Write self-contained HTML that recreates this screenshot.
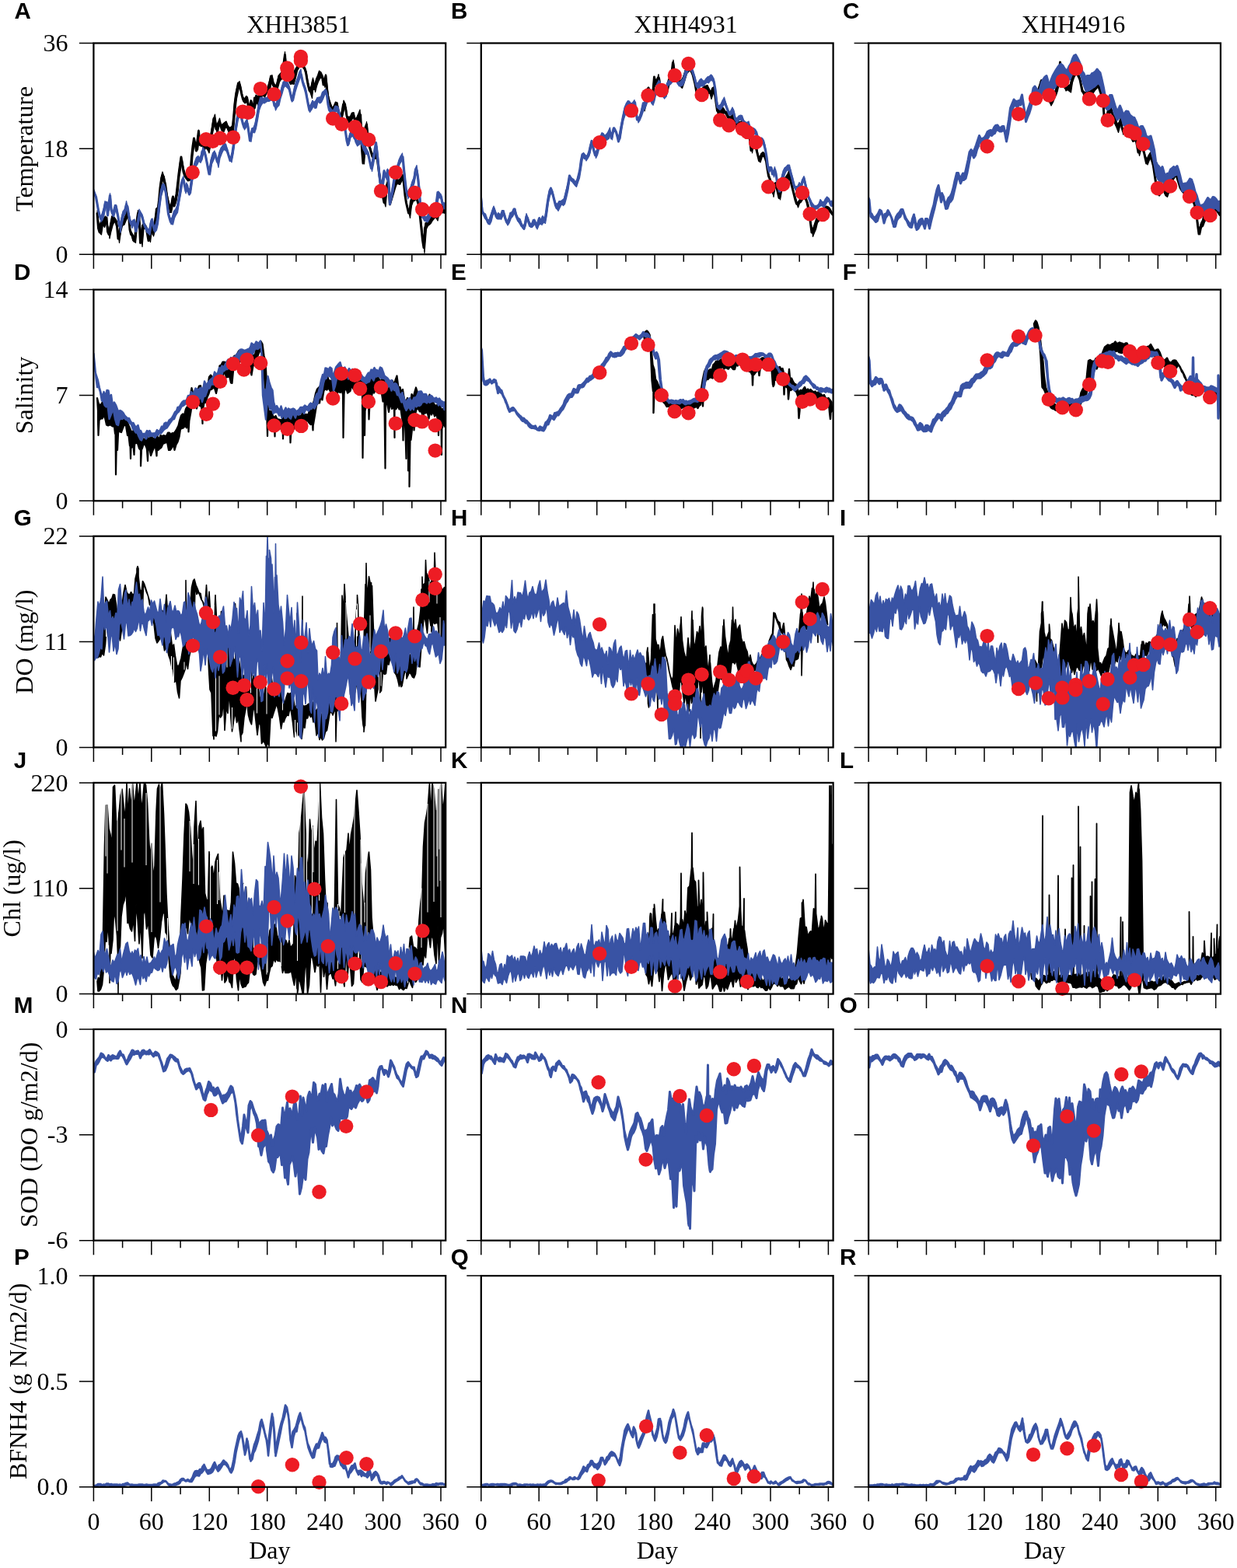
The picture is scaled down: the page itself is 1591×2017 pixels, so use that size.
<!DOCTYPE html>
<html lang="en"><head><meta charset="utf-8"><title>Figure</title>
<style>html,body{margin:0;padding:0;background:#fff}svg{display:block}</style>
</head><body>
<svg width="1591" height="2017" viewBox="0 0 1591 2017">
<rect width="1591" height="2017" fill="#fff"/>
<clipPath id="c00"><rect x="120.4" y="55.0" width="452.8" height="272.7"/></clipPath>
<g clip-path="url(#c00)"><g transform="scale(0.5)"><path d="M250 549l3 38 3 10 3-17 3-5 3-3 3-6 3-6 3 0 3 36 3 7 3-15 3-15 3-16 3 5 3 7 3 3 3 10 3 32 3-8 3-26 3-4 3-4 3-4 3-7 3-8 3-6 3 6 3 38 3 12 3 2 3 13 3 3 3-27 3-24 3-21 3 12 3 64 3-17 3-28 3 1 3 1 3 3 3 17 3 17 3-12 3-24 3 8 3 12 3-17 3-24 3-13 3-9 3-24 3-33 3-21 3-11 3 4 3 22 3 16 3 16 3 14 3 11 3 6 3-18 3-16 3 24 3-15 3-15 3-26 3-27 3-22 3-21 3 20 3 18 3 9 3 5 3 3 3 0 3-3 3-16 3-36 3-28 3-20 3 14 3 18 3-27 3-24 3 36 3-3 3-3 3 2 3 3 3 4 3 4 3 4 3-9 3-16 3-16 3-18 3-20 3 6 3 21 3-8 3-8 3-3 3 12 3 9 3-6 3-6 3-6 3 7 3 7 3 7 3-1 3-3 3-3 3-27 3-36 3-23 3-15 3-15 3 4 3 12 3 14 3 11 3 6 3 2 3-14 3 13 3 22 3-12 3-12 3 12 3 12 3-32 3 3 3 9 3-5 3-9 3-5 3-2 3-2 3-3 3-2 3-3 3-2 3-3 3-15 3-17 3 8 3 16 3 3 3 4 3-7 3-12 3-11 3-1 3-2 3-10 3-21 3-22 3 45 3 8 3 7 3 8 3 6 3-8 3-8 3-8 3-7 3-7 3-7 3-18 3-21 3 10 3 22 3 11 3 3 3 10 3 18 3 16 3 12 3 3 3-15 3-14 3 22 3-10 3-10 3-6 3-6 3-3 3-2 3 6 3 20 3-9 3-14 3 37 3 20 3 12 3 7 3 7 3 7 3-6 3-7 3-7 3 10 3 18 3 9 3 5 3-19 3-19 3 3 3 6 3 20 3 12 3-2 3-1 3-6 3-7 3 5 3 12 3 1 3-7 3-7 3-7 3 30 3 64 3 35 3-37 3-55 3-8 3 34 3 19 3 10 3 10 3 10 3 0 3-2 3-2 3 5 3 24 3 23 3 22 3 18 3 15 3 15 3-11 3-30 3-8 3 13 3 41 3-15 3-14 3-10 3-10 3-10 3 1 3 2 3-2 3-5 3-5 3-5 3 20 3 30 3 19 3 13 3 13 3-5 3-26 3-7 3-4 3-4 3-1 3 10 3 10 3 12 3 28 3 28 3 29 3 19 3-50 3-9 3-3 3-3 3-3 3-4 3-4 3-4 3-3 3-3 3-2 3-2 3-3 3-2 3 0 3-1 3-1 3 0 2-1" fill="none" stroke="#000" stroke-width="6" stroke-linejoin="round" stroke-linecap="round"/><path d="M250 542l4 43 5-15 4-4 4-5 4-5 4 12 5 31 4-23 4-19 4-1 4 5 5 8 4 37 4-26 4-13 4-2 5-7 4-16 4-4 4 49 4 9 5 10 4 3 4-39 4-29 4 36 5 30 4-32 4 0 4 6 4 20 5 8 4-34 4 14 4-14 4-38 5-4 4-32 4-44 4-15 4 13 5 19 4 29 4 19 4 14 4-29 5 13 4-13 4-29 4-36 4-34 5 4 4 23 4 13 4 4 4-7 5-1 4-56 4-27 4 5 4 3 5-35 4 30 4-4 4 3 4 3 5 4 4 6 4-16 4-25 4-27 5-14 4 29 4-8 4-11 4 18 5-4 4-3 4-3 4 10 4 6 5-2 4-4 4-55 4-32 4-16 5-10 4 15 4 23 4 7 4-4 5 0 4 27 4-20 4 10 4 1 5-24 4 3 4-2 4-3 4-9 5-1 4 0 4-5 4-12 4-15 5-7 4 19 4 7 4-2 4-22 5-6 4-4 4-20 4-32 4 52 5 7 4 11 4 0 4-12 4-11 5-8 4-11 4-32 4 3 4 33 5 7 4 12 4 25 4 16 4-1 5-24 4 21 4-18 4-9 4-12 5 4 4 9 4 11 4-15 4 43 5 21 4 12 4 11 4-7 4-9 5 2 4 22 4 14 4-17 4-25 5 10 4 30 4 3 4-2 4-9 5-1 4 17 4-5 4-9 4-10 5 84 4 40 4-61 4-32 4 40 5 24 4 14 4 5 4-2 4-5 5 26 4 32 4 30 4 22 4 22 5-46 4-15 4 45 4-3 4-14 5-14 4-15 4 3 4 0 4-6 5-8 4 21 4 42 4 20 4 14 5-29 4-10 4-7 4-5 4 15 5 16 4 34 4 42 4 28 4-56 5-1 4-20 4 10 4-8 4-6 5-2 4-8 4-1 4-2 4-9 5 8 4-1 2 20-4-5-4 0-5-2-4 4-4 18-4-7-4 0-5 6-4 7-4 4-4 3-4 8-5 62-4-41-4-39-4-33-4-15-5-13-4 7-4 1-4 11-4 32-5-21-4-14-4-31-4-34-4 4-5 10-4-1-4-1-4 11-4 14-5 17-4 10-4-34-4-5-4 46-5-17-4-20-4-32-4-32-4-25-5 3-4 0-4-6-4-18-4-19-5-38-4 43-4 51-4-45-4-83-5 13-4 9-4 7-4-20-4 1-5 7-4 9-4-14-4-10-4-23-5 24-4 19-4-17-4-23-4 1-5 10-4-1-4-4-4-12-4-24-5-42-4 21-4-16-4-9-4 1-5 9-4 11-4 16-4-24-4 40-5-15-4-16-4-25-4-12-4-8-5-33-4 12-4 19-4 7-4 17-5 18-4-1-4 0-4-8-4-5-5-53-4 31-4 21-4 3-4 6-5 18-4 2-4-6-4-8-4-2-5 23-4-1-4 5-4 9-4-5-5 4-4 8-4 13-4-9-4 17-5 1-4-7-4 13-4-24-4 0-5 4-4-5-4-18-4-22-4 9-5 23-4 36-4 46-4 19-4-10-5-5-4-11-4 1-4 10-4-1-5-21-4 11-4 23-4-31-4 4-5 24-4 25-4 21-4-9-4-7-5 13-4-16-4 2-4-23-4 32-5-9-4-4-4 27-4 56-4 9-5 1-4-5-4-8-4-29-4-1-5 30-4 41-4 23-4 12-4-7-5 25-4 0-4-27-4-23-4-26-5-11-4 15-4 43-4 38-4 7-5 27-4 18-4-19-4 34-4-9-5-24-4-2-4 1-4 46-4-44-5-36-4 28-4 42-4-6-4-5-5-13-4-52-4 11-4 8-4 10-5 3-4 16-4 28-4-30-4-22-5-2-4 9-4 15-4 19-4-31-5-9-4 11-4-7-4 26-4-4-5-44z" fill="#000" stroke="#000" stroke-width="2.4" stroke-linejoin="round"/>
<path d="M241 492l3 8 3 7 3 17 3 17 3 13 3 9 3-6 3-7 3-9 3-18 3-2 3 33 3-30 3-21 3 36 3 10 3 0 3-12 3-8 3 15 3 15 3 22 3 3 3-18 3-13 3-6 3-8 3-12 3 5 3 21 3 14 3 9 3 0 3-8 3 3 3 24 3-12 3-14 3-18 3-2 3 4 3 10 3 12 3 8 3 6 3 4 3 4 3-4 3-18 3-10 3 15 3 12 3-7 3-8 3-18 3-28 3-22 3-18 3-10 3-5 3 9 3 13 3 27 3 25 3 11 3 10 3 0 3-12 3-8 3-4 3-4 3-13 3-17 3-18 3-20 3-10 3-3 3 16 3 14 3-16 3 15 3 9 3-16 3-22 3-22 3-10 3-10 3-5 3-5 3-1 3 5 3-4 3-20 3-2 3 3 3 11 3 15 3 16 3 15 3-18 3-18 3-8 3-7 3-2 3 11 3 10 3-5 3-14 3-9 3-6 3-6 3 1 3 1 3 5 3 10 3 10 3 10 3-6 3-15 3-20 3-24 3-22 3-20 3-12 3-2 3 3 3 12 3 12 3 9 3-7 3-8 3 8 3 20 3 21 3-14 3-16 3 2 3 0 3-17 3-16 3-17 3-17 3-8 3 0 3-1 3-1 3-1 3 0 3-1 3-1 3 0 3-3 3-3 3 9 3 15 3 2 3-7 3-7 3-8 3-9 3-9 3-12 3-4 3-1 3-1 3 4 3 3 3 9 3 13 3 13 3-11 3-13 3-10 3-10 3-9 3-9 3-8 3 5 3 15 3 11 3 8 3 11 3 16 3 16 3 14 3-4 3-10 3-3 3 3 3 2 3-9 3-9 3 2 3 3 3-5 3-7 3-7 3-3 3-4 3 12 3 24 3 14 3 3 3 3 3 1 3-4 3-4 3-3 3 3 3 4 3 12 3 12 3 4 3 4 3 4 3 18 3 21 3 12 3-13 3-14 3-3 3 2 3 2 3 6 3 12 3 6 3-4 3-4 3-1 3 8 3 8 3 8 3 2 3 2 3 2 3 13 3 14 3 14 3-11 3-17 3-19 3-19 3 26 3 29 3 30 3 25 3 20 3-35 3-22 3 12 3 4 3-18 3 35 3 52 3-16 3-17 3-19 3-20 3-10 3-9 3-9 3-6 3-6 3-6 3-3 3 32 3 29 3 25 3 12 3-6 3-6 3-6 3-8 3-8 3-10 3-22 3 2 3 19 3 29 3 40 3 18 3 15 3 2 3 0 3 0 3 0 3-2 3-4 3-4 3-4 3-5 3-4 3-5 3-14 3-24 3 10 3-5 3 7 3 17 3 2 3 3 2 1" fill="none" stroke="#3953A4" stroke-width="6.4" stroke-linejoin="round" stroke-linecap="round"/><path d="M241 486l4 13 4 14 4 26 5 19 4-7 4-14 4-20 4 5 5 11 4-36 4 46 4 1 4-17 5 4 4 22 4 31 4-23 4-17 5-6 4-21 4 18 4 22 4 13 5-2 4-4 4 18 4-14 4-30 5 9 4 8 4 19 4 7 4 6 5 5 4-24 4-6 4 22 4-7 5-14 4-38 4-33 4-17 4-3 5 14 4 29 4 34 4 13 4-1 5-18 4-4 4-9 4-21 4-24 5-24 4-8 4 30 4-13 4 17 5-3 4-27 4-25 4-16 4-11 5-4 4 5 4-10 4-17 4 5 5 21 4 21 4 8 4-26 4-14 5-6 4 13 4 9 4-19 4-10 5-6 4-6 4 1 4 14 4 15 5 7 4-20 4-28 4-34 4-29 5-10 4 0 4 22 4 15 4-9 5-8 4 31 4 17 4-23 4-2 5-13 4-23 4-23 4-18 4-1 5 3 4-2 4 0 4-5 4-2 5-4 4 12 4 18 4-6 4-14 5-9 4-14 4-16 4-3 4 1 5 4 4 11 4 21 4 1 4-22 5-16 4-9 4-15 4-6 4 29 5 10 4 12 4 23 4 21 4-4 5-11 4 5 4-4 4-8 4-1 5-1 4-12 4-3 4-5 4 15 5 31 4 2 4 6 4-1 4-10 5 1 4 4 4 20 4 11 4 1 5 19 4 26 4 4 4-15 4-9 5 6 4 4 4 17 4-1 4-6 5 4 4 15 4 3 4 4 4 8 5 21 4 16 4-23 4-16 4-18 5 32 4 46 4 33 4-17 4-25 5 14 4-17 4 59 4 12 4-23 5-25 4-22 4-9 4-15 4-9 5-8 4 34 4 40 4 30 4-10 5-6 4-15 4-9 4-24 4-9 5 36 4 58 4 17 4 16 4 4 5 1 4-7 4-6 4-2 4-6 5-8 4-16 4-20 4 4 4 10 5 15 4 1 2 14-4 2-4-23-5-4-4-4-4 20-4 16-4 7-5 5-4 3-4 7-4 7-4-2-5-2-4-10-4-25-4-54-4-28-5-2-4 22-4 11-4 12-4 9-5 9-4-29-4-39-4-34-4 5-5 8-4 14-4 15-4 13-4 28-5 23-4-15-4-58-4 21-4-18-5 34-4 9-4-32-4-44-4-37-5 21-4 26-4 18-4-18-4-21-5-5-4 0-4-11-4-10-4-7-5 4-4 3-4-18-4 0-4-8-5 4-4 17-4-2-4-28-4-13-5-11-4-7-4-17-4-4-4-3-5 6-4 3-4-1-4-6-4-28-5-20-4 5-4 10-4 8-4 3-5-5-4 17-4 1-4-5-4 8-5 7-4-24-4-22-4-12-4-13-5-23-4 6-4 11-4 11-4 13-5 22-4 4-4-21-4-11-4-4-5-5-4 5-4 15-4 12-4 18-5 5-4 8-4-18-4-7-4-1-5 3-4 0-4 2-4 3-4-1-5 8-4 11-4 25-4 21-4 12-5-2-4 25-4-15-4-33-4 10-5 7-4-16-4-18-4-1-4 8-5 29-4 33-4 28-4 21-4-7-5-12-4-9-4-4-4 0-4 8-5 13-4 24-4-17-4-14-4 11-5 11-4 28-4-9-4-22-4-19-5-6-4 17-4 8-4-6-4 10-5 7-4 15-4 23-4 29-4 3-5-14-4 12-4-28-4 0-4 25-5 27-4 25-4 6-4 8-4 17-5-1-4-16-4-27-4-36-4-17-5 10-4 14-4 32-4 38-4 17-5 6-4-18-4-1-4 26-4-4-5-4-4-11-4-19-4-10-4-3-5 24-4 17-4-18-4 0-4 10-5-14-4-21-4-21-4 19-4 5-5 23-4 21-4-33-4-12-4-15-5 19-4-3-4-44-4 31-4-7-5-4-4 23-4 12-4 5-4-21-5-22-4-19-4-9z" fill="#3953A4" stroke="#3953A4" stroke-width="2.4" stroke-linejoin="round"/></g></g>
<g fill="#ED1C24"><circle cx="247.7" cy="221.8" r="9.2"/><circle cx="265.0" cy="179.3" r="9.2"/><circle cx="273.6" cy="181.7" r="9.2"/><circle cx="283.1" cy="177.8" r="9.2"/><circle cx="299.9" cy="176.7" r="9.2"/><circle cx="312.1" cy="143.7" r="9.2"/><circle cx="319.2" cy="144.8" r="9.2"/><circle cx="335.0" cy="114.1" r="9.2"/><circle cx="352.5" cy="121.1" r="9.2"/><circle cx="369.3" cy="87.4" r="9.2"/><circle cx="369.8" cy="96.1" r="9.2"/><circle cx="386.9" cy="73.0" r="9.2"/><circle cx="386.9" cy="78.0" r="9.2"/><circle cx="428.2" cy="152.6" r="9.2"/><circle cx="439.5" cy="159.7" r="9.2"/><circle cx="456.5" cy="163.2" r="9.2"/><circle cx="463.6" cy="171.6" r="9.2"/><circle cx="474.2" cy="179.8" r="9.2"/><circle cx="490.0" cy="245.7" r="9.2"/><circle cx="508.8" cy="221.8" r="9.2"/><circle cx="533.5" cy="248.0" r="9.2"/><circle cx="543.2" cy="269.2" r="9.2"/><circle cx="559.7" cy="271.3" r="9.2"/><circle cx="561.0" cy="268.9" r="9.2"/></g>
<clipPath id="c01"><rect x="618.8" y="55.0" width="452.8" height="272.7"/></clipPath>
<g clip-path="url(#c01)"><g transform="scale(0.5)"><path d="M1656 279l3-12 3-12 3-20 3-9 3 12 3 10 3 9 3-24 3-35 3 16 3 1 3-14 3 0 3 18 3 9 3 7 3 7 3 3 3-11 3-11 3-11 3-6 3-6 3-14 3-25 3 24 3 10 3 6 3 6 3 6 3 1 3-3 3-3 3-6 3-10 3-10 3-4 3-4 3-1 3 6 3 6 3 7 3 12 3 12 3 17 3 16 3 7 3-8 3-8 3-5 3-4 3-4 3-1 3 1 3 1 3 4 3 7 3 1 3-11 3-2 3 16 3 21 3 21 3 3 3 2 3 0 3-2 3-2 3 0 3 4 3 3 3 6 3 6 3 0 3-3 3-3 3 4 3 10 3 6 3 0 3-1 3-1 3 0 3 0 3 6 3 6 3 6 3 0 3 0 3 0 3 25 3 27 3-9 3-16 3 4 3 12 3 12 3 12 3 12 3-9 3-8 3-3 3 6 3 6 3 9 3 20 3 18 3 7 3 8 3 24 3 4 3-18 3-6 3 12 3 12 3 13 3-13 3-14 3-6 3-6 3-6 3-5 3-3 3-3 3 2 3 12 3 12 3 12 3 12 3 12 3 9 3 2 3-6 3-5 3-5 3-5 3-5 3 5 3 8 3 8 3 14 3 18 3 21 3 24 3 0 3-13 3-8 3-7 3-6 3-4 3-4 3-4 3-5 3-4 3-5 3-4 3 2 3 3 3 3 3 2 3 3 3 2" fill="none" stroke="#000" stroke-width="6" stroke-linejoin="round" stroke-linecap="round"/><path d="M1656 274l4-17 4-29 5-3 4 16 4 9 4-37 4-10 5 3 4-15 4 24 4 8 4 11 5 1 4-13 4-17 4-8 4-12 5-31 4 25 4 17 4 5 4 7 5-3 4-7 4-11 4-15 4-2 5 1 4 4 4 9 4 17 4 25 5 20 4-3 4-6 4-11 4-5 5-1 4-1 4 9 4 10 4-12 5-3 4 25 4 30 4 2 4-2 5-4 4 5 4 7 4 1 4 11 5 3 4-9 4 4 4 17 4-2 5 2 4 0 4-2 4 10 4 8 5-2 4 1 4 26 4 30 4-28 5 5 4 10 4 26 4 9 4-11 5-4 4 4 4 12 4 32 4 13 5 16 4 32 4-29 4-2 4 16 5 6 4-8 4-11 4-13 4-4 5-8 4-9 4 23 4 15 4 16 5 17 4 14 4-7 4-6 4-13 5-2 4 7 4 13 4 12 4 35 5 28 4-6 4-14 4-11 4-6 5-6 4-6 4-7 4-2 4-2 5 2 4 4 4 7 2 11-4-5-4-5-4-4-5 4-4 2-4 11-4 3-4 7-5 6-4 17-4 9-4 10-4-32-5-29-4-22-4-9-4-14-4 9-5 8-4 3-4 11-4-12-4-14-5-17-4-16-4-16-4 5-4 4-5 7-4 8-4 9-4 22-4-14-5-16-4-1-4 24-4-29-4-12-5-15-4-28-4-16-4-4-4 0-5 15-4-10-4-18-4-12-4-10-5 26-4-28-4-26-4-1-4 4-5-12-4-10-4 1-4 1-4 9-5-6-4-15-4-3-4 2-4 0-5-7-4-7-4-6-4 5-4-1-5 0-4 6-4-38-4-24-4 2-5 15-4-15-4 1-4 0-4-9-5 5-4 9-4 9-4 3-4-22-5-25-4-14-4-7-4-11-4 5-5 5-4 14-4 13-4 11-4-4-5-7-4-7-4-12-4-29-4 30-5 13-4 10-4 18-4 10-4-1-5-11-4-9-4-26-4 16-4-3-5 11-4 34-4-7-4-17-5 8-4 26-4 16z" fill="#000" stroke="#000" stroke-width="2.4" stroke-linejoin="round"/>
<path d="M1237 508l3 35 3 6 3 5 3 4 3 6 3 8 3-2 3-6 3-9 3-9 3-10 3 10 3 10 3 5 3-11 3 12 3-5 3-9 3-2 3 6 3 11 3 8 3 4 3-10 3-8 3-3 3-4 3-8 3-3 3 14 3 8 3 5 3 5 3 4 3 5 3 5 3 3 3-14 3-17 3 4 3 11 3 9 3 1 3-5 3-5 3-4 3 8 3 9 3-12 3-11 3 13 3-4 3-12 3 7 3-1 3-18 3-22 3-19 3-14 3-7 3 8 3 11 3 12 3 12 3 7 3-5 3-5 3-3 3-1 3 2 3-2 3-11 3-11 3-13 3-15 3-19 3 8 3 5 3 1 3 2 3 3 3 0 3-10 3-12 3-14 3-23 3-14 3-1 3 10 3-1 3-2 3-5 3-6 3-17 3-13 3 14 3 12 3 10 3-4 3-9 3-12 3-11 3-10 3-9 3 5 3 8 3-3 3-2 3-5 3-8 3 3 3 14 3-15 3-11 3 5 3 5 3 11 3 13 3-14 3-18 3-16 3-16 3-13 3-9 3-7 3-4 3-2 3 5 3 4 3-2 3-4 3-5 3 23 3 22 3-1 3-4 3-6 3-12 3-11 3-5 3-5 3-5 3-5 3-5 3 2 3 7 3 8 3-10 3-11 3-10 3-9 3-9 3-6 3 11 3 11 3 9 3 7 3-4 3-18 3-12 3-3 3-2 3-3 3-4 3-3 3 3 3 2 3 4 3 5 3 4 3-2 3-3 3-3 3-9 3-11 3-9 3-4 3-4 3 1 3 3 3 4 3 8 3 9 3 12 3 12 3 1 3-4 3-3 3-1 3-1 3-1 3-2 3-2 3-2 3-4 3-3 3-3 3 3 3 2 3 11 3 18 3 28 3 17 3 1 3 1 3-5 3-7 3-7 3 3 3 9 3 8 3 7 3 8 3-4 3-4 3-4 3 11 3 13 3 3 3-2 3-2 3-2 3-2 3 4 3 8 3 8 3 0 3-2 3-2 3 6 3 10 3 8 3-2 3-2 3-2 3 9 3 9 3 9 3 1 3-1 3-1 3 1 3 12 3 12 3 18 3 24 3 11 3-8 3 1 3 16 3-3 3-9 3 11 3 21 3 12 3 12 3-15 3-16 3-12 3-6 3-6 3-3 3-2 3-2 3 7 3 12 3 11 3 11 3 11 3 2 3 1 3 0 3-3 3-3 3-4 3-12 3-5 3 14 3 13 3 11 3 11 3 8 3 9 3 7 3 2 3 2 3 0 3-2 3-2 3-4 3-6 3 2 3 2 3 1 3-5 3-4 3-3 3-2 3 7 3 8 3-4 2-2" fill="none" stroke="#3953A4" stroke-width="6.4" stroke-linejoin="round" stroke-linecap="round"/><path d="M1237 493l4 48 4 7 4 2 5 15 4 0 4-12 4-12 4-11 5 14 4 10 4-6 4 6 4-13 5 0 4 16 4 11 4-6 4-15 5-2 4-9 4 0 4 15 4 9 5 3 4 11 4 8 4-9 4-24 5 14 4 10 4 3 4-11 4-1 5 13 4-10 4-8 4 6 4-10 5 8 4-23 4-29 4-22 4-7 5 11 4 19 4 11 4 1 4-7 5 0 4-3 4-3 4-18 4-15 5-25 4 1 4 5 4 2 4 7 5-8 4-14 4-27 4-23 4-3 5 6 4 2 4-12 4-16 4-12 5 18 4 14 4-7 4-16 4-14 5-14 4 1 4 6 4-4 4-6 5-11 4 23 4-22 4-1 4 8 5 19 4-14 4-23 4-18 4-23 5-12 4-6 4 1 4 6 4-2 5-7 4 23 4 24 4-4 4-11 5-25 4-1 4-7 4-7 4-7 5 5 4 13 4-13 4-16 4-16 5-9 4 13 4 8 4 13 4-3 5-24 4-6 4-2 4-11 4 1 5 5 4 3 4 7 4 1 4-4 5-5 4-18 4-11 4-5 4 0 5 6 4 7 4 15 4 17 4 0 5-8 4-3 4 5 4 1 4-6 5-5 4-1 4-4 4 4 4 12 5 34 4 29 4 0 4-3 4-9 5-9 4 14 4 12 4 12 4-2 5-10 4 11 4 17 4-1 4-5 5-2 4 1 4 12 4 4 4 2 5-3 4 16 4 6 4-5 4 3 5 7 4 15 4 3 4-3 4 4 5 15 4 28 4 31 4-3 4 0 5 13 4-13 4 20 4 20 4 14 5-24 4-19 4-8 4-3 4-5 5 0 4 20 4 12 4 20 4 4 5-2 4-9 4 5 4-12 4-9 5 20 4 17 4 16 4 7 4 9 5 6 4 1 4-1 4-3 4-12 5 6 4 0 4-8 4-5 4 3 5 9 4-2 2 15-4 0-4-14-5 2-4 6-4 8-4-1-4-3-5 3-4 5-4 1-4 1-4-2-5-7-4-16-4-13-4-16-4-18-5 2-4 13-4 7-4 6-4-2-5-6-4-19-4-16-4-16-4 2-5 1-4 7-4 11-4 17-4 20-5-7-4-24-4-20-4 13-4-14-5-4-4 7-4-33-4-24-4-18-5-1-4-1-4-2-4-9-4-13-5 2-4 2-4-9-4-14-4 2-5 3-4-6-4-11-4-4-4-1-5 7-4 2-4-15-4-14-4 8-5 0-4-7-4-11-4-12-4 6-5 7-4 4-4-3-4-24-4-31-5-15-4-3-4 1-4 6-4-2-5 4-4 6-4 0-4 0-4 7-5-4-4-14-4-14-4-11-4-5-5-3-4 10-4 10-4 15-4 7-5 2-4 0-4-8-4-6-4-3-5 6-4 5-4 3-4 1-4 28-5 6-4-9-4-16-4-9-4 9-5 11-4 19-4 12-4-9-4-9-5 6-4 11-4 10-4 6-4 12-5 12-4 6-4-23-4-20-4 2-5 6-4-6-4-2-4 6-4 15-5 15-4 22-4 26-4 6-4-17-5-6-4-3-4 23-4-19-4 15-5 4-4 1-4-8-4 3-4 12-5 16-4 15-4 8-4-17-4-19-5 13-4 17-4 7-4 6-4-8-5 1-4 27-4 24-4 11-4 12-5-5-4-5-4-6-4-3-4 26-5 22-4 15-4 4-4-4-4 8-5 10-4-6-4-15-4-16-4-13-5 10-4 18-4 31-4 23-4-3-5 7-4-5-4 6-4 10-4-16-5 6-4 5-4 0-4-12-4-14-5 23-4 9-4-7-4-2-4-9-5-5-4-17-4-1-4 7-4 4-5 13-4 6-4-11-4-17-4 3-5 10-4-5-4 4-4-4-4-13-5 6-4 17-4 8-4-1-4-10-5-5-4-9-4-41z" fill="#3953A4" stroke="#3953A4" stroke-width="2.4" stroke-linejoin="round"/></g></g>
<g fill="#ED1C24"><circle cx="771.2" cy="183.3" r="9.2"/><circle cx="812.0" cy="142.4" r="9.2"/><circle cx="833.5" cy="122.8" r="9.2"/><circle cx="850.8" cy="116.0" r="9.2"/><circle cx="867.8" cy="96.9" r="9.2"/><circle cx="885.4" cy="81.9" r="9.2"/><circle cx="902.6" cy="122.0" r="9.2"/><circle cx="926.2" cy="154.5" r="9.2"/><circle cx="937.5" cy="161.3" r="9.2"/><circle cx="955.0" cy="165.7" r="9.2"/><circle cx="961.6" cy="169.9" r="9.2"/><circle cx="972.1" cy="183.0" r="9.2"/><circle cx="988.3" cy="240.3" r="9.2"/><circle cx="1007.1" cy="237.0" r="9.2"/><circle cx="1032.0" cy="248.0" r="9.2"/><circle cx="1041.7" cy="275.2" r="9.2"/><circle cx="1058.2" cy="276.0" r="9.2"/></g>
<clipPath id="c02"><rect x="1117.1" y="55.0" width="452.8" height="272.7"/></clipPath>
<g clip-path="url(#c02)"><g transform="scale(0.5)"><path d="M2652 260l3-2 3-1 3-2 3-1 3-8 3-10 3-10 3-9 3-10 3 18 3 14 3 3 3 3 3 4 3 5 3 5 3 6 3-5 3-7 3-8 3-8 3-8 3-9 3-23 3-37 3 34 3 13 3 9 3 9 3 3 3-1 3-1 3 0 3-7 3-12 3-12 3-4 3-4 3-1 3 6 3 6 3 7 3 15 3 15 3 3 3 4 3 2 3-1 3-1 3-1 3-2 3-3 3-3 3-3 3-4 3-5 3-5 3 7 3 9 3 9 3 12 3 18 3 40 3 4 3-16 3-10 3-4 3-4 3 2 3 12 3 12 3 7 3 6 3 5 3-2 3-6 3-7 3 18 3 10 3-1 3-1 3 0 3 0 3 6 3 5 3 5 3 5 3 1 3 1 3 1 3 15 3 17 3-6 3-10 3 2 3 7 3 8 3 14 3 13 3-7 3-7 3-7 3 7 3 10 3 12 3 21 3 20 3 13 3 13 3 7 3-14 3-13 3 6 3 8 3 8 3 5 3-3 3-12 3-9 3-8 3-8 3-7 3-4 3-5 3 8 3 10 3 9 3 10 3 5 3 4 3 3 3 4 3 0 3 0 3 0 3 0 3 5 3 7 3 7 3 6 3 13 3 17 3 26 3 22 3-14 3-10 3-5 3-5 3-4 3-3 3-3 3-3 3-3 3-4 3-4 3-3 3-4 3 1 3 2 3 2 3 3 3 3 0 1" fill="none" stroke="#000" stroke-width="6" stroke-linejoin="round" stroke-linecap="round"/><path d="M2652 257l4-3 4-3 5-4 4-11 4-14 4-14 4 3 5 13 4 13 4 8 4 6 4 4 5-1 4-13 4-10 4-14 4-17 5-40 4 40 4 8 4 15 4 1 5-5 4-2 4-18 4-10 4-9 5 0 4 9 4 10 4 19 4 15 5 5 4-2 4-9 4 9 4-5 5-3 4-8 4-5 4-1 4 5 5 19 4 15 4 51 4 0 4-21 5-4 4-6 4 19 4 6 4 7 5 15 4-7 4-11 4 29 4-2 5-1 4 1 4 4 4 9 4 8 5 3 4 1 4 14 4 20 4-14 5 0 4 9 4 17 4 9 4-9 5-8 4 14 4 14 4 34 4 17 5 22 4-5 4-19 4 11 4 8 5 8 4-9 4-17 4-8 4-9 5-7 4-4 4 17 4 13 4 5 5 9 4 7 4 0 4 1 4-4 5 10 4 10 4 11 4 15 4 34 5 21 4-17 4-8 4-16 4 4 5-3 4-4 4-3 4-7 4-3 5-2 4-3 4 12 2 14-4-6-4-6-5 2-4 6-4 2-4 7-4 4-5 1-4 6-4 11-4 3-4 19-5-26-4-28-4-19-4-8-4-5-5-13-4 1-4-3-4 3-4-9-5-5-4-9-4-11-4-15-4-4-5 9-4 8-4 19-4 7-4 11-5-4-4-10-4-12-4 18-4 4-5-16-4-21-4-22-4-24-4-15-5 9-4 10-4-14-4-14-4-13-5 3-4 15-4-20-4-16-4-2-5 2-4-8-4-8-4-8-4 11-5-9-4 3-4-28-4 7-4 16-5-13-4-9-4-15-4-17-4 4-5 5-4 18-4 2-4-51-4-13-5-19-4-12-4 6-4 4-4 6-5 7-4 1-4 5-4 0-4-2-5-2-4-12-4-25-4-6-4-10-5 0-4 7-4 12-4 26-4-3-5-4-4 3-4-12-4-14-4-37-5 43-4 19-4 12-4 7-4 11-5 9-4-10-4-1-4-12-4 0-5-21-4-11-4 14-4 12-4 16-5 4-4-2-4 3z" fill="#000" stroke="#000" stroke-width="2.4" stroke-linejoin="round"/>
<path d="M2234 509l4 38 4 3 4 8 5 2 4-5 4-6 4-9 4 3 5 19 4-11 4-1 4-9 4 7 5 11 4 17 4-3 4-15 4-7 5-5 4-7 4 0 4 12 4 10 5 8 4 5 4 7 4-18 4-11 5 34 4-7 4-11 4-4 4-1 5 16 4-16 4 0 4 15 4-19 5-19 4-13 4-22 4-17 4-11 5 26 4-6 4 9 4 22 4-8 5-11 4-3 4-8 4-14 4-19 5-20 4 0 4 14 4-5 4-8 5 2 4-18 4-18 4-21 4-6 5 7 4-8 4-11 4-12 4-12 5 10 4-3 4-2 4-6 4-9 5-3 4-1 4 2 4-9 4-5 5-1 4 6 4 1 4-4 4 0 5 25 4-18 4-24 4-30 4-10 5-12 4 4 4 1 4-2 4 1 5-16 4 27 4 28 4-8 4-12 5-14 4-18 4-20 4-5 4 6 5 8 4-7 4-16 4-8 4-6 5-4 4 14 4 11 4-15 4-10 5-9 4-7 4-6 4-5 4-3 5 4 4 7 4 5 4-1 4-9 5-8 4-12 4-8 4-2 4 7 5 10 4 9 4 17 4 5 4 10 5-4 4 0 4 0 4-6 4-1 5-4 4-6 4 5 4 4 4 16 5 23 4 23 4 4 4 1 4-9 5 0 4 13 4 13 4 12 4 0 5-11 4 10 4 14 4-5 4-5 5 1 4 8 4 4 4 3 4 1 5 11 4 12 4 4 4-5 4 0 5 10 4 14 4 4 4-1 4-2 5 18 4 17 4 30 4 9 4 4 5 9 4-8 4 14 4 11 4-7 5-1 4-10 4-3 4-4 4 3 5-5 4 12 4 15 4 17 4 3 5-2 4 0 4-5 4-7 4 2 5 15 4 16 4 9 4 14 4 13 5-1 4-1 4-4 4-7 4-7 5 5 4 0 4-7 4 1 4 4 5 8 4-2 2 24-4 0-5-5-4-5-4 6-4 2-4-2-5 3-4 1-4 1-4 5-4 0-5 0-4-5-4-11-4-14-4-14-5-16-4-5-4 5-4 3-4 1-5-1-4 1-4-13-4-14-4-18-5 3-4 1-4 4-4 1-4 12-5 6-4 11-4-8-4-12-4 0-5 0-4-5-4-9-4-22-4-21-5-19-4-6-4-1-4-3-4-10-5-15-4 2-4-1-4-4-4-10-5-8-4 0-4-4-4-5-4-2-5-7-4 8-4-1-4-14-4-9-5 4-4 5-4-9-4-10-4-16-5 2-4 5-4 2-4-4-4-20-5-22-4-14-4-6-4-2-4 4-5 5-4 2-4 3-4 1-4 3-5 2-4-11-4-10-4-16-4-10-5-6-4-9-4 3-4 9-4 8-5 12-4 1-4 4-4-2-4-8-5-2-4 6-4 6-4 4-4 10-5 5-4 4-4 8-4-6-4-9-5 7-4 3-4 6-4 8-4 9-5-1-4-2-4-9-4 10-4 21-5 16-4 9-4 11-4-30-4-26-5 13-4-1-4 5-4-1-4-4-5 10-4 12-4 28-4 26-4 19-5-26-4-3-4 3-4 0-4-3-5-1-4 9-4 2-4 4-4-4-5 9-4 5-4 8-4 2-4 3-5-13-4 17-4 9-4 15-4 6-5-13-4 9-4 21-4 21-4 15-5 4-4 0-4 9-4-13-4-3-5 22-4 17-4 17-4 6-4 3-5 15-4 1-4-21-4-9-4 13-5-30-4 13-4 14-4 18-4 15-5 20-4 18-4-16-4-2-4 18-5-14-4 1-4 5-4 8-4 3-5-31-4 10-4 15-4-1-4-5-5-12-4-5-4-16-4 1-4 10-5 4-4 6-4 16-4 0-4-19-5-11-4-3-4 5-4 6-4 13-5-24-4-2-4 7-4 13-4 3-5-6-4-4-4-4-4-43z" fill="#3953A4" stroke="#3953A4" stroke-width="6" stroke-linejoin="round"/></g></g>
<g fill="#ED1C24"><circle cx="1269.6" cy="188.3" r="9.2"/><circle cx="1310.0" cy="146.8" r="9.2"/><circle cx="1332.0" cy="126.7" r="9.2"/><circle cx="1349.3" cy="122.5" r="9.2"/><circle cx="1366.5" cy="103.9" r="9.2"/><circle cx="1383.7" cy="88.2" r="9.2"/><circle cx="1401.0" cy="127.3" r="9.2"/><circle cx="1418.7" cy="129.5" r="9.2"/><circle cx="1424.7" cy="154.7" r="9.2"/><circle cx="1453.0" cy="168.8" r="9.2"/><circle cx="1459.6" cy="171.5" r="9.2"/><circle cx="1470.2" cy="185.3" r="9.2"/><circle cx="1489.1" cy="242.2" r="9.2"/><circle cx="1505.1" cy="239.5" r="9.2"/><circle cx="1530.0" cy="252.7" r="9.2"/><circle cx="1539.7" cy="273.6" r="9.2"/><circle cx="1556.5" cy="277.1" r="9.2"/></g>
<clipPath id="c10"><rect x="120.4" y="372.1" width="452.8" height="272.7"/></clipPath>
<g clip-path="url(#c10)"><g transform="scale(0.5)"><path d="M250 1024l3 12 4 8 4-5 4-7 4 15 3-7 4 15 4 0 4 3 4-20 3 19 4-4 4 0 4 6 4 6 3 3 4-3 4 6 4 12 4-4 3 11 4 9 4 10 4 3 4-8 3 0 4 12 4 10 4-4 4 12 3-6 4 1 4 4 4-9 4 6 3-5 4-1 4 5 4-2 4 3 3-7 4 8 4-11 4 3 4-3 3 1 4 1 4-9 4 0 4 6 3-5 4 1 4-5 4-7 4-8 3-13 4-13 4-4 4 3 4-16 3-5 4 3 4-29 4-23 4 16 3 11 4-4 4-16 4-12 4-1 3 23 4-1 4-6 4-5 4-14 3-19 4-5 4 5 4 0 4 4 3 0 4-6 4-27 4-2 4-8 3 0 4 1 4 10 4 7 4-7 3-3 4-18 4-6 4 0 4-6 3-6 4 7 4-5 4 8 4 5 3 2 4 4 4-12 4 11 4-16 3 9 4-4 4-18 4-8 4 3 3-11 4 7 4 30 4 15 4 78 3 48 4 2 4 0 4 12 4 5 3-5 4 8 4 1 4 1 4 1 3-7 4 8 4-8 4 0 4 3 3-8 4 4 4-4 4 4 4-7 3 6 4-2 4 1 4-8 4 7 3-4 4 0 4 1 4-16 4 7 3-16 4-12 4-18 4-11 4-4 3-3 4 4 4-10 4-15 4 1 3-7 4 12 4 0 4 3 4-5 3 0 4-8 4 8 4-15 4 23 3-7 4 1 4-4 4-1 4 0 3-5 4-1 4-13 4-4 4 2 3 15 4 3 4 5 4-2 4 5 3-3 4-1 4 1 4-7 4 9 3-2 4-3 4-8 4 5 4 0 3 5 4 10 4-16 4 2 4 15 3 10 4-1 4-6 4 12 4-21 3 10 4-12 4-11 4 31 4-2 3 12 4-6 4 25 4 8 4-11 3 17 4 3 4-30 4 9 4-16 3-10 4 12 4 2 4 20 4-2 3 11 4-9 4 3 4-3 4-16 3 11 4-3 4 16 4 5 4-2 3-3 4-4 4 19 4-2 4 7 2 40-4-12-3 13-1-17-1 87-1-70-2-9-3-7-1-14-1 50-1-36-1-5-4-14-4 6-4-13-4 9-3-11-4 21-4-18-4 4-4-1-3 11-4-14-4 0-4-7-4-1-3 11-2 22-2 23 0-26-1 3-3 11-4 37-2 0-2 120 0-126-1 6-1-7-1 86 0-118-2 32-1-9-1-22-1 86-2-64-1-22-3-10-1-12-1 61-1-49-2-9-3-22-4 0-4-10-4 9-2 1-2-13 0 86-1-73-2-5-4 4-4-17-4 25-4-23-3-10-1 18-1 160-2-160 0-22-4 10-4-27-4-7-3 4-4 5-4-6-4 9-4-3-3 19-4 6 0 4-2 42-1-42-1 10-4-10-3 16-1 4-1 63-1-67-1-28-1 12-2 141-1-141 0-26-4-8-4-2-4-11-3 3-4 2-4 6-4-11-4 16-3 2-4 3-4-14-4 9-1 9-2 111-1-116 0 5-3-10-4 5-4-5-4 9-4-9-3-5-4 11-4 1-4-9-4-5-3 5-4-3-4 5-4 24-4-11-3 19-4 0-4 6-4 25-4 24 0-8-1 23-2-23 0 5-4 3-4-4-4-6-4 2-3 1-4 3-4-6-4 11-4 3-3 1-4-1-4 7-4-11-4 1 0 7-2 39-1-36-1-3-3-5-4 2-4 0-4-4-1 7-1 29-1-32-1 3-3-5-4 9-4-3-4-3-2 2-1-8-1 31-1-23-2-14-4 7-4-5-4-9-2 5-1-15-1 53-1-38-2-66-4-31-4-59-4-33-3 7-4 6-4 10-4 7-4 15-3 1-4 24-4-16-4 0-4-12-3-4-4 1-4 3-4-9-4 3-3-6-4 3-4 9-4 7-4 42-3-1-4-18-4 3-4 1-4-15-3 6-4 20-4-2-4 13-4 6-3 13-4-13-4-1-4 4-4 1-3 10-4 9-4 13-4 2-3 16-1 1 0 36-2-37-1-7-4-2-4-9-4 16-4-11-3 6-4-19-4 32-4 22 0-3-2 33-1-33-1-1-3 24-4-6-4 6-4 1-4 2-3 20-4 13-4 7-4 14-4-18-3 12-4 6-4 0-4-21-4 2-3 1-4 2-4 9-4 3-4 4-3-1 0-5-1 21-2-16-1-7-4 2-4 9-4 11-3-16-4 1 0-2-1 31-2-29-1-5-4-9-4 1-3 9-2 4-2 42 0-44-1 2-3-3-4-13-4-2-3 2-1 6-1 23-2-23 0-6-4 10-2-4-1 33-1-37-1 4-3-26-3-1-4-25-4-3-4 9-4 11-3-1-4-4-1 9-2 42-1-54 0 12-1 0-2 105-1-126-1 21-3-27-3 8-4-3-4-1-4 2-4-2-3-14-4-12-4 10-4 0-4 4 0 3-2 36-1-36 0-27z" fill="#000" stroke="#000" stroke-width="4.4" stroke-linejoin="round"/>
<path d="M241 910l4 46 3 11 4 12 4 19 4 14 4 8 3-12 4 11 4-15 4 1 4 24 3-13 4 28 4-9 4 7 4 11 3 6 4-3 4 2 4 4 4 7 3 3 4 4 4 0 4 8 4 5 3-1 4 8 4 3 4-5 4 15 3-1 4 9 4-1 4 0 4-8 3 2 4-2 4 8 4-1 4 0 3-1 4-8 4 4 4-4 4-9 3 3 4-11 4-2 4 2 4-8 3-2 4-4 4-7 4-8 4-3 3-9 4-1 4-7 4-6 4-3 3 1 4-3 4-11 4 1 4-11 3 5 4-3 4-11 4 2 4 2 3-4 4-1 4 4 4-21 4 8 3-1 4-7 4-4 4-3 4-5 3-12 4 6 4-3 4-14 4 3 3-8 4 4 4-7 4-7 4-6 3 4 4-9 4 4 4-6 4-1 3-6 4-3 4-8 4-1 4 1 3 2 4-1 4-2 4-1 4-5 3-10 4 3 4 1 4-8 4 3 3 1 4-6 4 43 4 94 4-11 3 0 4-35 4 17 4 12 4 7 3 30 4 14 4-4 4 7 4 4 3-10 4 13 4-1 4-8 4 8 3-6 4 3 4-1 4-2 4 2 3 5 4-1 4-3 4-6 4 0 3 0 4-5 4 3 4 1 4-7 3-3 4 2 4 0 4-16 4-10 3 0 4-15 4-20 4-14 4-1 3-16 4 1 4 3 4-6 4 3 3 23 4-13 4-13 4-5 4-5 3-3 4 14 4 1 4-2 4 12 3-2 4-7 4 6 4-4 4 1 3 1 4 2 4 12 4-6 4 4 3 4 4 4 4 0 4-7 4-6 3 2 4-10 4 2 4-7 4 7 3-1 4 4 4-11 4 2 4 11 3 9 4 3 4 3 4 6 4 1 3-2 4 13 4-5 4 2 4 9 3 15 4 4 4-6 4 14 4 10 3-2 4-5 4-3 4 9 4-3 3-7 4 1 4-6 4-10 4-1 3 0 4 8 4-1 4 0 4 7 3 2 4-6 4 2 4 6 4 0 3-2 4 5 4-3 4 6 4 2 3 2 4 0 2 17-4 2-3-10-4 2-4-8-4 5-4-8-3 0-4-2-4-1-4 2-4 2-3-5-4 6-4-3-4 0-4 1-3 6-4 3-4-1-4 4-4-10-3 17-4-7-4 8-4-9-4 5-3 5-4-9-4-14-4 2-4-11-3-7-4-1-4-12-4 0-4-8-3 9-4-12-4 2-4-6-4-13-3-2-4-1-4 0-4-4-4-2-3 2-4-1-4 11-4-7-4 0-3 10-4 1-4 3-4-3-4-3-3-2-4-3-4 0-4-2-4-2-3-2-4 4-4-3-4-2-4 7-3-11-4 0-4-2-4 5-4-2-3-11-4 6-4 14-4 19-4 12-3-27-4-8-4-2-4-4-4 10-3-1-4 13-4 23-4 14-4 0-3 15-4 5-4 8-4-5-4 6-3-1-4 6-4-3-4 0-4 10-3-5-4 1-4 6-4 1-4-3-3 11-4-8-4-2-4 12-4-3-3-7-4 8-4 1-4-11-4 10-3-9-4 3-4-8-4-1-4 1-3 3-4-14-4 3-4-14-4-1-3 41-4-31-4-31-4-123-4-1-3 4-4 1-4-2-4 9-4 7-3-5-4 8-4 5-4-9-4 4-3 1-4 12-4 0-4-8-4 11-3 4-4-5-4 5-4 1-4 4-3 1-4 9-4 0-4 4-4 2-3 11-4 2-4-1-4 10-4-4-3 15-4 0-4-1-4 11-4 0-3 9-4 11-4 1-4 14-4-19-3 12-4-6-4-5-4 9-4-2-3 10-4-7-4 11-4 4-4-4-3 4-4 3-4 2-4 8-4 6-3 2-4 6-4 10-4 1-4 6-3 4-4 6-4 6-4 2-4 3-3 4-4 5-4-1-4 6-4-1-3 7-4-4-4-1-4 1-4 0-3 0-4 7-4-6-4 0-4 10-3-2-4-8-4-10-4 0-4-7-3-2-4-12-4-3-4-5-4-4-3-1-4-5-4 4-4-1-4 3-3 14-4-2-4-14-4-22-4 4-3 8-4 10-4-35-4 4-4-4-3-10-4-2-4-22-4-13-4 0-3-24-4-42z" fill="#3953A4" stroke="#3953A4" stroke-width="4.8" stroke-linejoin="round"/></g></g>
<g fill="#ED1C24"><circle cx="248.0" cy="517.1" r="9.2"/><circle cx="265.3" cy="532.8" r="9.2"/><circle cx="273.9" cy="519.6" r="9.2"/><circle cx="283.1" cy="490.8" r="9.2"/><circle cx="299.9" cy="468.1" r="9.2"/><circle cx="313.7" cy="475.6" r="9.2"/><circle cx="317.6" cy="462.6" r="9.2"/><circle cx="335.2" cy="467.0" r="9.2"/><circle cx="352.5" cy="547.4" r="9.2"/><circle cx="369.6" cy="551.7" r="9.2"/><circle cx="387.4" cy="547.9" r="9.2"/><circle cx="428.2" cy="512.5" r="9.2"/><circle cx="439.2" cy="480.6" r="9.2"/><circle cx="456.5" cy="482.7" r="9.2"/><circle cx="463.1" cy="500.0" r="9.2"/><circle cx="473.9" cy="516.8" r="9.2"/><circle cx="490.0" cy="498.4" r="9.2"/><circle cx="508.8" cy="544.7" r="9.2"/><circle cx="533.5" cy="540.3" r="9.2"/><circle cx="542.9" cy="542.4" r="9.2"/><circle cx="559.7" cy="547.1" r="9.2"/><circle cx="559.7" cy="579.6" r="9.2"/></g>
<clipPath id="c11"><rect x="618.8" y="372.1" width="452.8" height="272.7"/></clipPath>
<g clip-path="url(#c11)"><g transform="scale(0.5)"><path d="M1656 860l4-6 4-3 3 3 4 7 4 35 4 43 4 12 3 25 4 6 4 10 4 5 4 10 3 13 4 10 4 3 4 0 4 5 3-1 4 1 4 0 4 2 4-1 3 3 4-2 4-1 4-1 4 2 3 0 4 1 4-1 4-1 4-2 3 0 4-2 4 1 4-1 4-6 3 0 4-30 4-24 4-19 4-8 3 4 4 2 4-4 4 3 4-15 3-2 4-6 4-1 4 1 4-5 3 1 4 1 4-2 4-8 4 5 3-5 4 2 4 0 4 5 4 5 3-1 4-4 4-3 4-7 4 4 3 1 4 9 4 5 4-1 4 3 3 3 4 2 4-4 4-3 4-5 3-3 4 0 4-4 4 0 4 3 3 3 4-1 4-4 4 3 4 14 3-3 4 4 4 2 4 4 4-2 3 6 4-2 4 15 4 2 4 8 3 0 2-23 2 23 0 4 4-4 4 9 4 6 3 1 4 11 4 11 4-7 4 1 3-3 4-6 4 10 4-5 4 5 3-4 4 4 4 3 4-2 4 5 3-3 4 3 4 2 4 5 4-3 3 7 4 3 4-2 4 5 4 6 1 22-3 4 0-1-1 18-2-17-1-12-4-8-4-4-4 2-3-9-4 0-4-4-4-2-4 3-3-3-4 1-4 1-4 1-4-6-3 11-4-1-4-1-4 10-4 6-3 1-4-1 0 10-2 20-1-20-1-35-4-12-4-4-3-6-4 2-4 3-4-6 0 6-2 23-1-23-1-9-3 1-4-9 0-6-2 34-1-28-1-15-4-5-4-4-3 2-4-6-4 18-4 1-1 12-2 4-1-29 0 25-3-39-4-6-4 2-4-3-4 0-3-4-4 5-4-2-3 8-1 6-1 9-2-15-1 3-3 0-4 5-4 5-2-1-1 28-1-37-1 9-3-7-3 0-4-6-4-6-4-5-4-5-3 6-4-4-4-1-4 6-4-2-3 11-4 0-4-5-4-3-4 7-3-1-4-3-4 4-4-5-4 2-3-2-4 5-4 2-4 18-4-4-3 8-4-2-4 0-4 5-4 0-3 6-4 19 0 2-2 42-1-44-1 21-4 19-4 3-3 6-4-5-4 3-4 2-4-1-3 10-4-8-4-4-4 5-4-2-3-3-4 3-4 2-4-2-4 7-3-5-4-2-4 0-4-2-4-2-3-1-4 1-4-7-4-4-4-10-3-7-4-6-4-9-4 5-4-12-1 10-2 56 0-69-1 13-3-28-4-97-4-10-3-6-4 2-4 6z" fill="#000" stroke="#000" stroke-width="4.8" stroke-linejoin="round"/>
<path d="M1237 895l4 68 3 18 4 3 4-4 4-1 4-3 3 6 4-1 4-4 4 2 4 23 3-6 4 6 4 3 4 13 4 7 3 9 4 8 4 11 4 1 4-4 3-1 4 5 4 6 4 5 4 4 3 2 4 5 4 0 4 5 4 2 3 4 4 4 4 4 4 2 4 0 3-1 4 8 4-1 4-5 4 2 3 4 4-6 4-11 4-3 4-6 3-9 4 2 4 3 4-11 4-1 3-1 4-2 4-7 4-5 4-6 3-10 4-7 4-7 4-3 4 1 3-5 4-9 4 2 4 2 4-13 3-1 4 0 4-3 4-4 4-5 3-5 4 0 4-6 4 0 4-5 3-5 4-3 4 2 4-3 4-5 3-10 4-4 4-6 4-8 4-2 3-8 4-5 4 4 4 1 4-2 3 0 4-1 4 3 4-6 4-6 3-6 4-2 4-5 4-3 4-6 3-6 4-3 4-3 4-4 4 3 3 3 4-3 4-3 4-6 4 5 3-2 4 2 4 7 4 9 4 12 3 17 4 8 4-6 4 15 4 48 3 22 4 11 4 13 4 8 4 1 3 5 4 1 4-1 4 1 4 2 3-2 4 1 4 0 4-3 4 2 3-2 4 5 4-2 4 3 4-3 3 0 4-2 4-3 4-1 4 1 3-2 4-1 4-11 4-7 4-27 3-22 4-14 4-6 4-10 4-4 3-2 4-4 4-2 4 0 4-2 3-2 4-2 4-3 4-2 4 1 3 1 4 3 4 2 4 5 4 1 3 0 4-2 4 1 4 0 4-4 3 2 4 2 4 3 4 0 4 3 3-3 4 1 4-2 4-3 4-4 3 1 4-2 4-1 4 0 4 1 3 3 4 2 4 0 4-5 4 0 3 4 4 12 4 6 4 10 4 5 3 8 4 2 4 8 4 3 4 6 3 3 4 6 4 5 4 4 4 1 3 3 4 1 4-3 4-5 4-5 3-1 4-4 4-8 4-3 4 4 3 3 4 6 4 6 4 2 4 3 3 5 4 0 4 5 4-3 4 1 3 2 4-1 4-3 4 2 4 0 3 5 4-2 2 5-4 2-3-2-4 0-4-4-4 4-4-2-3-1-4 3-4-1-4-6-4 0-3-5-4 1-4-6-4-5-4-6-3-1-4-3-4 3-4 6-4 1-3 5-4 3-4 3-4 4-4 3-3-4-4-5-4-3-4-4-4-4-3-6-4-4-4-6-4-2-4-7-3-8-4-5-4-6-4-9-4-11-3-5-4 1-4 4-4 3-4-5-3-6-4 1-4 1-4 3-4-1-3 2-4 5-4 1-4 6-4-3-3 0-4-2-4-3-4 1-4-5-3 1-4 1-4 0-4 0-4 4-3-2-4-3-4 0-4-5-4-2-3-2-4 1-4 3-4-1-4 6-3 0-4 5-4-4-4 4-4 0-3 3-4 6-4 9-4 3-4 14-3 26-4 26-4 11-4 8-4 0-3 3-4-1-4 0-4 1-4 3-3 2-4 0-4 0-4 2-4-3-3-2-4-1-4 4-4-1-4-1-3 1-4 0-4 0-4-3-4 2-3-5-4-2-4-7-4-10-4-14-3-21-4-51-4-15-4 11-4-10-3-15-4-16-4-10-4-9-4 3-3 1-4-5-4 4-4 3-4 4-3-3-4-1-4 3-4 2-4 5-3 4-4 7-4 3-4 4-4 4-3 7-4 5-4 3-4 0-4-1-3 3-4 1-4-1-4-6-4 6-3 5-4 6-4 5-4 7-4 4-3 11-4 4-4 2-4 0-4 6-3 2-4 4-4 3-4 2-4 4-3 0-4 5-4 7-4 2-4 0-3 4-4 10-4 0-4-3-4 9-3 5-4 0-4 3-4 8-4 5-3 7-4 8-4 4-4 6-4 6-3-2-4 6-4 7-4-3-4-1-3 7-4 10-4 0-4 10-4 6-3-1-4-2-4 2-4-1-4-3-3-1-4-1-4 0-4-2-4-4-3-6-4-1-4-4-4-1-4-4-3-5-4-4-4-5-4-8-4-4-3 3-4 0-4 3-4-9-4-13-3-8-4-7-4-9-4-4-4-4-3 6-4-25-4-5-4 2-4 3-3-5-4 2-4 5-4 2-4-2-3-19-4-68z" fill="#3953A4" stroke="#3953A4" stroke-width="6.4" stroke-linejoin="round"/></g></g>
<g fill="#ED1C24"><circle cx="771.2" cy="479.2" r="9.2"/><circle cx="812.0" cy="441.8" r="9.2"/><circle cx="833.5" cy="443.7" r="9.2"/><circle cx="850.8" cy="508.4" r="9.2"/><circle cx="867.6" cy="529.3" r="9.2"/><circle cx="885.4" cy="531.2" r="9.2"/><circle cx="902.6" cy="508.1" r="9.2"/><circle cx="926.2" cy="483.0" r="9.2"/><circle cx="937.2" cy="462.3" r="9.2"/><circle cx="955.0" cy="462.6" r="9.2"/><circle cx="960.8" cy="469.6" r="9.2"/><circle cx="972.2" cy="468.9" r="9.2"/><circle cx="988.3" cy="468.9" r="9.2"/><circle cx="1007.1" cy="487.7" r="9.2"/><circle cx="1031.8" cy="516.8" r="9.2"/><circle cx="1041.7" cy="513.6" r="9.2"/><circle cx="1057.7" cy="519.1" r="9.2"/></g>
<clipPath id="c12"><rect x="1117.1" y="372.1" width="452.8" height="272.7"/></clipPath>
<g clip-path="url(#c12)"><g transform="scale(0.5)"><path d="M2660 833l4-8 3 4 4 13 4 24 4 34 4 31 3 38 4 28 4 11 4 16 4 8 3 2 4 5 4 1 4 3 4 2 3 1 4-6 4 2 4 0 4-1 3-2 4 0 4 0 4 0 4-3 3 0 4-4 4 1 4-6 4-1 3-16 4-8 4-6 4 0 4-41 3-27 4-2 4 3 4 1 4-2 3-6 4 0 4-4 4-2 4-5 3-8 4-10 4-3 4-3 4 2 3-1 4-3 4-1 4-5 4 6 3-2 4-2 4 2 4 1 4 2 3-3 4 0 4 8 4-2 4 3 3 9 4-2 4 4 4 1 4-1 3-1 4 0 4-4 4-4 4 0 3-2 4-1 4-5 4 7 4 7 3 3 4-3 4-1 4 7 4 11 3 6 4 4 4-2 4-4 4 9 3 2 4 1 4-5 4-1 4 1 3 5 4 6 4 6 4 11 4 5 3 9 4 7 4 8 4 0 4 5 3-2 4 6 4-2 4 3 4 2 3-2 4 0 4 4 4 0 4 0 3-2 4 4 4 1 4 1 4-2 3 0 4 1 4-2 4 6 2 14-4-2-4 0-4-4-3 3-4-5-4 4-4-5-4-1-3-2-4-2-4-1-4-1-4 2-3 4-4 1-4 9-4-4-4 0-3-1-4-10-4-10-4-13-4-11-3-7-4-8-4-6-4-8-4-2-3 5-4 3-4-3-4 2-4-2-3-3-4-3-4 1-4 3-4-2-3-9-4-6-4-1-4-5-4 1-3-6-4-4-4-4-4 4-4 1-3-1-4 4-4-2-4 5-4-3-3 2-4 1-4 1-4-3-4-1-3-2-4-4-4 3-4-2-4-2-3 1-4-5-4 4-4-1-4-1-3-4-4 2-4-2-4 7-4-3-3-2-4 6-4 5-4 5-4 0-3 6-4 5-4 5-4 4-4 9-3-4-4 6-4 8-4 7-4 10-3 12-4 24-4 7-4 6-4 3-3 11-4-1-4 4-4 3-4 3-3 2-4-3-4 0-4 2-4-2-3 3-4 0-4 3-4 9-4-2-3-1-4-3-4-1-4-3-4-1-3-2-4-6-4-14-4-11-4-11-3-6-4-5-4-77-4-55-4-20-3-5-4 9z" fill="#000" stroke="#000" stroke-width="4.8" stroke-linejoin="round"/>
<path d="M2234 919l4 57 3 7 4-1 4-3 4-8 4 4 3 2 4-2 4 1 4 21 4-5 3-2 4 10 4 5 4 14 4 9 3 12 4 6 4 8 4-3 4-9 3 2 4 6 4 8 4 4 4 5 3 1 4 6 4 0 4 2 4 7 3 7 4 7 4-2 4-6 4 3 3 7 4 4 4-8 4 0 4 4 3 2 4-9 4-12 4-2 4-7 3-5 4 1 4 3 4-7 4-4 3-2 4-5 4-4 4-8 4-4 3-6 4-10 4-10 4 2 4-2 3 1 4-18 4-4 4-1 4-3 3 0 4 1 4-4 4-6 4-2 3-5 4-5 4 0 4-1 4-3 3-2 4-3 4-8 4-4 4-3 3 0 4-7 4-8 4-7 4-7 3-3 4 0 4 3 4-1 4-4 3 1 4 2 4 0 4-8 4-9 3-5 4-4 4-2 4-5 4 1 3-5 4-2 4 0 4 6 4-3 3-5 4-7 4-9 4-5 4-2 3 4 4 2 4 8 4 7 4 19 3 13 4 10 4 5 4 11 4 37 3 34 4 19 4 1 4 9 4-2 3 3 4 3 4-2 4 1 4-1 3-2 4 3 4 2 4-3 4-1 3 3 4-1 4 6 4-4 4-1 3 2 4-5 4-2 4-1 4 1 3-3 4 0 4-4 4-7 4-20 3-39 4-16 4-8 4-3 4-5 3-5 4-1 4 0 4-2 4-2 3 0 4-3 4 0 4 2 4-2 3 7 4 4 4 1 4 2 4-1 3 2 4 4 4-2 4 3 4 1 3-2 4 3 4 3 4 3 4-5 3 3 4-4 4-2 4-3 4-1 3-6 4-3 4-1 4-3 4-2 3 0 4 1 4 1 4-1 4 9 3 15 4 40 4-9 4-2 4 0 3 7 4-2 4 7 4 5 4 3 3 8 4-3 4-4 4 6 4 5 3 3 4 0 4-3 4-8 4-3 3-4 4-8 4 1 2 5 1-55 1 54 1 1 3-1 2 7 1-5 1-13 1 18 2-3 4 5 4 4 4 7 3 1 4 1 4 3 4-1 4 0 3-4 4 1 4 2 4 2 4 3 2 4 1-3 0-37 2 40 2-5 2 12-4-3 0-2-2 68-1-68-1-1-3 0-4-3-4 1-4 0-4-1-3 2-4 0-4 2-4-3-4 0-3-9-4-5-4-2-4-5-4-1-3-1-4-6-4 3-4 6-4 7-3 4-4 1-4 5-4-2-4 4-3-11-4-4-4 1-4 7-4-8-3-6-4-3-4-2-4-5-4-5-3-3-4 5-4 8-4-36-4-17-3-7-4-5-4 0-4 3-4 0-3-3-4 8-4 1-4 6-4 0-3 4-4 2-4 2-4 5-4-4-3 1-4-2-4 0-4-3-4-2-3 0-4 4-4-3-4-3-4-3-3-2-4 3-4-6-4 0-4-7-3 1-4-2-4 2-4 0-4 0-3 2-4 0-4 5-4 3-4 2-3 4-4 3-4 10-4 15-4 35-3 21-4 9-4 4-4 1-4 0-3 2-4 2-4 3-4 3-4-1-3 1-4 1-4-3-4-4-4 4-3-2-4 2-4-2-4 0-4-1-3-2-4 2-4 1-4-1-4-2-3 0-4-6-4-8-4-16-4-30-3-43-4-8-4-8-4-8-4-10-3-21-4-5-4-10-4-4-4-1-3 0-4 7-4 7-4 5-4 12-3-2-4-1-4-5-4 6-4 2-3 3-4 1-4-2-4 7-4 10-3 3-4 8-4-1-4-1-4 2-3 4-4-1-4-3-4 2-4 5-3 7-4 4-4 11-4 3-4 0-3 2-4 10-4 4-4 4-4 3-3 2-4 0-4 0-4 4-4 6-3 2-4 9-4 4-4-1-4 1-3 0-4 1-4 5-4 16-4 0-3-3-4 5-4 6-4 10-4 7-3 7-4 4-4 7-4 2-4 6-3 0-4 11-4-8-4 1-4 5-3 4-4 7-4 8-4 12-4-3-3-5-4 6-4 1-4 0-4-4-3-3-4 3-4 1-4-9-4-6-3-7-4-3-4-3-4 0-4-3-3-4-4-6-4-4-4-7-4 2-3 1-4 2-4-4-4-7-4-12-3-10-4-11-4-7-4-9-4 2-3 3-4-23-4 2-4 4-4-6-3-1-4 8-4 1-4 4-4-7-3-58z" fill="#3953A4" stroke="#3953A4" stroke-width="6.8" stroke-linejoin="round"/></g></g>
<g fill="#ED1C24"><circle cx="1269.6" cy="463.4" r="9.2"/><circle cx="1310.0" cy="432.7" r="9.2"/><circle cx="1331.5" cy="431.6" r="9.2"/><circle cx="1348.8" cy="513.8" r="9.2"/><circle cx="1366.4" cy="524.3" r="9.2"/><circle cx="1383.8" cy="527.3" r="9.2"/><circle cx="1401.1" cy="494.8" r="9.2"/><circle cx="1417.5" cy="464.5" r="9.2"/><circle cx="1425.0" cy="465.7" r="9.2"/><circle cx="1453.0" cy="451.9" r="9.2"/><circle cx="1459.6" cy="458.6" r="9.2"/><circle cx="1470.6" cy="453.5" r="9.2"/><circle cx="1489.4" cy="466.8" r="9.2"/><circle cx="1505.1" cy="477.8" r="9.2"/><circle cx="1529.8" cy="498.7" r="9.2"/><circle cx="1540.0" cy="501.1" r="9.2"/><circle cx="1556.2" cy="511.0" r="9.2"/></g>
<clipPath id="c20"><rect x="120.4" y="689.2" width="452.8" height="272.7"/></clipPath>
<g clip-path="url(#c20)"><g transform="scale(0.5)"><path d="M250 1650l3-7 4 13 4-27 4 10 4-66 3-37 4 8 4 10 4-11 4-4 3-10 4 1 4 26 4 33 4 13 3-11 4-34 4-32 4-20 4 19 3 4 4 3 4-8 4 7 4-2 3-39 4-16 0-10 2-6 2 6 0 19 4 35 4 6 3-28 4 7 4 12 4 13 4 13 3 10 4 8 4 8 4 36 4 6 3-12 4 3 4-7 4-21 4 3 3 3 4-47 4 56 4 24 4 28 3 27 4-7 4 31 4 22 4 4 3-8 4-13 4-24 4-21 3-7 1 3 0-152 2 149 1-2 4-58 4-19 4-52 4-17 3-4 4 15 4 9 4 11 4 2 3 17 4 6 4 10 4-55 4 65 3-48 4 64 4 19 4 15 4-89 3 60 4 15 4 34 4-67 4 59 3 18 4 15 4-15 4 5 4-18 3 82 4-25 4-30 1-85 1-26 2 31 0-5 4 145 3-29 4 23 4 42 4-23 4 8 3 9 4-29 4 26 4-32 4 46 3-27 4 36 4-18 4 10 4 27 3 16 4-25 4 5 4-22 4 7 3 13 4-67 4 20 4 29 4-10 3 4 4 4 4-7 4 10 4 18 3 7 4 16 4-17 4-11 4 3 3-3 4 5 4 9 4 28 3-10 1 19 1-256 1 237 1 21 4 17 4-44 2 6 2-281 0 274 1 7 3 2 3-1 4-1 4-4 4-1 4 7 3-11 4 11 4 13 4-6 4 21 3-11 4 7 4-15 4 4 4-11 3-5 4-16 4-9 4 13 4-20 3 14 4-25 1 4 1-172 2 172 0 15 4-11 4-73 3-174 4 42 1-39 1-32 2 32 0 10 4 50 4 43 3 49 4 1 4 23 4-23 4-80 3-50 0 55 1-82 2 27 1 51 4 46 4 85 4 13 3-141 3-109 1 43 1-97 1 54 2 34 4-54 4 20 1 4 1-8 1 69 1-61 3 92 4 93 4-44 4 20 3 5 4-23 4 27 4-4 4-2 3 9 4-22 4-16 4 1 4 7 3 5 4 13 4 6 4-15 4 21 3 2 4-2 4-15 4 8 4 19 3-15 4 9 4-1 3-20 1 13 1-116 1 103 2-22 3 5 4-29 4-17 4-34 2-52 2 30 0-62 1 32 2-12 4-3 1-16 1-44 2 44 0-11 4 8 4 16 3 4 4-16 4 30 1-47 1-47 2 47 0 15 4 5 3 18 4 26 4-21 4 6 4-7 3 10 2 162-3-40-4 13-4-6-4-8-4-8-3-30-4-2-4 3-4-7-4 28-3-23-4-26-4 52-4-28-4-19-3 31-4 48-4 55-4-3-4-9-3 30-4 10-4-2-4-8-4-4-3 7-4 9-4-21-4 18-4 22 0-3-2 5-1-5 0-26-4 30-4-18-4-12-4-6-3-15-4-13-4-11-4 19-4-3-3 26-4 2-4-7-4 49-4 5-3-17-4 19-4 20-4-67-4-49-3-2-4-28-4 2-4 54-4 153-1-2-2 18 0-10-2-8-2-20-4-77-4-43-4-10-3 46-4 21-4 10-4 12-4-18-3-58-4-18-4 32-4 21-4 37-3-3-4 25-4 6-4 1-1-1-2 80-1-86 0 6-3 1-4 11-4-10-4 6-4 26-3 17-4 4-4 16-4 5-4-9-3 8-4-21-4 10-4-42-4 8-3-17-4 4-4-9-4 12-4 0-3 25-4-4-4 32-4-6-4-8-3 7-4-23-4 25-4-37-4-28-3-10-4 20-4-1-4 7-4 11-3-4-4 21-4-30-4-21-4-14-3 12-4 12-4 13-4-3-4 76-3-12-4 15-4-11-4-6-4 7-3-47-4-8-4 33-4-36-4-35-3 7-4 37-4-9-4-15-4-37-3 21-4 21-4 40-3 6-1-8 0 25-2-17-2-15-3-29-4 12-4-27-4 23-4 27-3-34-4-70-4 57-4-15-4 59-3-80-4 41-4 6-4-8-4 44-3 12-4-3 0-47-2 58-1-11-1 2-4-110-4-9-3-51-4-108-4-49-4-5-4-15-3-3-4-11-4-9-4 6-4-25-3 138-4-12-4 41-4 18-4 32-3-20-4 22-4 11-4 10-4 8-3 44-4-16-4-32-4 7-4-33-3-4-4-20-4-11-4-20-4 1-3 6-4-27-4-16-4 13-4 6-3 4-4-12-4-37-4-13-4-35-3-1-4-23-4-9-4-12-4-9-3 90-4 11-4-19-4-19-4-15-3 18-4-17-4 8-4-2-4-13-3 9-4-4-4 16-4 35-4 26-3 21-4-14-4-33-4-3-4-9-3-11-4 15-4-10-4 34-4 3-3 38-4 28-4-7-4 11-4-1-3 3z" fill="#000" stroke="#000" stroke-width="3.2" stroke-linejoin="round"/>
<path d="M273 1638v-40M414 1646v-41M431 1565v46M441 1726v-38M447 1754v-63M474 1723v-20M533 1683v-86M543 1547v111M550 1556v149M555 1881v-144M561 1561v73M564 1839v-100M584 1616v101M597 1875v-55M603 1602v93M636 1729v42M645 1729v54M661 1748v87M686 1747v90M727 1777v50M759 1901v-49M765 1918v-59M772 1920v-67M775 1811v48M832 1894v-22M871 1765v51M874 1836v-69M877 1848v-40M890 1550v123M917 1568v149M919 1553v84M926 1634v53M941 1767v-60M952 1676v-93M975 1784v-109M980 1765v-36M1007 1710v-27M1009 1639v29M1012 1724v-52M1037 1666v49M1043 1747v-16M1104 1495v54M1107 1638v-27M1124 1489v64M1132 1649v-61" fill="none" stroke="#fff" stroke-width="2"/>
<path d="M241 1653l4-23 3-39 4-43 4 12 4-21 4-55 3 77 4-10 4-5 4 40 4-15 3 24 4-7 4 8 4-19 4 4 3-64 4-14 4 50 4 10 4-37 3-8 4 47 4-23 4 29 4-22 3-1 4-24 4-26 4 35 4-5 3 23 4-9 4 32 4 10 4-13 3-9 4 14 4-32 4 10 4-8 3 12 4 16 4 2 4-35 4 32 3 10 4-28 4 45 4-35 4-9 3-9 4 25 4 1 4-15 4 18 3-5 4 2 4 11 4-5 4-29 3-2 4 43 4-66 4 13 4 19 3 16 4-24 4 19 4 12 4 20 3 12 4-10 4-17 4-29 4-20 3 24 4 25 4 9 4-13 4 32 3 19 4-7 4-35 4-6 4 2 3-11 4-15 4 51 4-1 4 27 3-29 4 11 4-27 4-43 4 21 3-5 4 65 4-92 4 14 4-31 3 69 4 7 4-26 4 65 4-27 3-100 4 62 4-20 4 42 4-23 3 55 4-3 4 52 4-123 4 70 3-190 1 22 2-73 1 30 0 43 1 7 1-23 2 23 0-45 4 22 2 56 1-41 1 21 1 20 2 84 3-92 1 29 1-115 1 86 2-5 4 76 4 28 3-24 4 40 4 60 4-43 4-86 3 32 4 41 4-41 4 75 4-42 3 83 4-129 4 61 4 93 4-109 3 40 4 7 4-40 4 78 4-63 3 29 4 16 4-13 4 20 4 5 3 75 4-17 4 8 4-21 4 28 3-58 4 52 4-9 4 4 4-26 3-70 4-16 4-9 4 81 4-6 3 20 4-75 4 53 4-41 4-3 3 6 4-13 4 7 4-39 4 42 3 25 4-9 4 6 4-34 4 43 3-8 4-34 4 6 4-12 4 25 3 34 4-6 4-30 4-33 4 19 3-10 4-9 4-10 4-13 4-27 3 52 4-16 4 17 4 28 4 6 3-30 4-8 4 29 4-13 4 6 3-26 4 23 4 5 4-9 4-18 3 30 4-32 4-23 4-1 4 50 3-6 4-3 4-10 4 25 4-14 3-27 4 21 4 10 4 6 4 3 3-13 4-1 4-1 4-18 4 17 3-6 4 6 4 3 4 8 4 3 3-46 4 27 2 35-4 1-3 0-4 37-4 10-4-26-4 6-3 3-4-18-4-20-4 9-4 22-3-6-4-14-4-2-4-11-4 18-3-2-4 15-4 35-4-30-4 15-3-23-4 29-4-37-4 16-4 34-3 9-4-8-4 6-4 24-4-55-3 26-4 10-4-52-4 49-4-18-3-9-4-15-4-10-4 8-4-16-3 12-4 42-4-48-4 51-4 15-3-8-4 2-4 36-4-49-4 51-3-42-4 10-4 39-4 8-4 13-3-53-4 32-4 27-4-41-4-11-3 73-4-25-4 12-4-40-4-38-3 11-4 21-4 18-4 29-4-47-3 85-4-31-4-33-4 3-4 23-3 16-4-2-4-37-4 40-4 16-3 0-4 52-4-89-4 35-4 49-3-77-4-27-4 67-4-90-4 66-3-8-4-55-4-27-4 66-4-34-3 12-4 111-4-6-4-71-4-3-3-51-4 25-4 31-4-75-4 20-3-40-4 15-4-7-4 71-4-21-3-23-4 27-4-9-4-24-4 34-3-77-4 23-4 37-4-8-4-60-3 51-4-49-4 92-4 3-4-50-3-50-4-10-4 65-4-36-4 14-3-37-4 72-4-13-4-27-4 22-3-64-4 56-4-59-4 4-4 50-3-41-4-37-4 26-4 11-4 13-3-45-4-11-4 47-4 22-4 5-3-37-4 11-4 19-4-25-4 44-3-40-4 25-4-9-4-21-4-13-3-15-4 40-4-40-4 31-4 24-3-44-4-19-4-12-4 2-4-25-3 22-4 12-4 21-4-30-4-5-3 10-4 5-4-26-4-17-4 18-3-2-4 9-4-28-4-4-4 5-3 33-4 5-4 23-4-37-4-10-3 28-4-17-4-10-4 2-4-26-3-14-4-12-4 26-4-19-4 6-3 2-4 37-4-13-4-17-4-1-3 19-4-34-4 27-4 9-4-9-3 10-4 6-4 3-4 1-4-38-3 6-4 40-4-27-4-20-4 12-3 60-4 14-4-29-4 21-4-44-3 7-4 40-4-49-4-19-4 10-3-27-4 77-4-5-4 17-4 11-3-1-4 7z" fill="#3953A4" stroke="#3953A4" stroke-width="3.2" stroke-linejoin="round"/></g></g>
<g fill="#ED1C24"><circle cx="248.0" cy="830.6" r="9.2"/><circle cx="265.0" cy="788.5" r="9.2"/><circle cx="274.1" cy="800.0" r="9.2"/><circle cx="283.1" cy="845.1" r="9.2"/><circle cx="299.6" cy="884.8" r="9.2"/><circle cx="314.0" cy="881.7" r="9.2"/><circle cx="317.6" cy="900.2" r="9.2"/><circle cx="334.7" cy="877.5" r="9.2"/><circle cx="352.5" cy="886.4" r="9.2"/><circle cx="369.6" cy="850.3" r="9.2"/><circle cx="369.6" cy="872.6" r="9.2"/><circle cx="387.4" cy="826.7" r="9.2"/><circle cx="387.4" cy="876.2" r="9.2"/><circle cx="428.2" cy="839.3" r="9.2"/><circle cx="439.2" cy="905.0" r="9.2"/><circle cx="456.5" cy="847.4" r="9.2"/><circle cx="463.1" cy="802.4" r="9.2"/><circle cx="474.1" cy="877.3" r="9.2"/><circle cx="490.0" cy="838.0" r="9.2"/><circle cx="508.8" cy="814.4" r="9.2"/><circle cx="533.5" cy="818.4" r="9.2"/><circle cx="543.4" cy="771.7" r="9.2"/><circle cx="559.7" cy="738.7" r="9.2"/><circle cx="559.7" cy="756.8" r="9.2"/></g>
<clipPath id="c21"><rect x="618.8" y="689.2" width="452.8" height="272.7"/></clipPath>
<g clip-path="url(#c21)"><g transform="scale(0.5)"><path d="M1656 1705l4 2 4-1 0-28 2-12 1 43 0-31 4 52 4-35 4-114 2 18 1-20 0-25 1 63 1-63 0 45 1-20 1 65 4 16 4-1 4 26 4-39 3-9 4 29 4 24 4 13 4 23 3 11 4 13 4-10 4-131 4 55 3-46 4 25 3-33 1-7 1-16 1 23 2 37 4 29 3 11 4 8 4-54 4 43 4-34 1-55 1-23 1 69 1-46 3 72 4-14 4-28 4 10 3-24 4 41 1-67 2-23 1 5 0 18 4 88 4-11 3 40 4 33 1-30 2-20 1 62 0-42 4 49 4 27 3-17 4-13 4-40 4-33 4-14 3 10 3-64 1 9 1-25 1 16 2 27 4 28 4 28 3-31 4-14 3-53 1 22 1-55 1 33 2 23 4-24 3 31 4-10 4-7 4 34 4 13 3-4 4 16 4 9 4 24 4-15 3 16 4 9 4 2 4-4 4-8 3 1 4-9 4-9 4 0 4-8 3-5 4-5 4-18 4-10 4-7 3-54 4 2 4 13 4 8 4 3 3 21 4-6 1-7 2-7 1 10 0-3 4 48 4 17 3 15 4-11 4 7 4-8 4-6 3 1 4-13 4-31 4-49 1-4 2-48 1 45 1 3 2 29 4-13 4-7 4-23 4-28 3 14 4-35 2 3 1-18 1 44 1-26 3 20 4-12 3 12 4 32 4-12 4-4 4-16 3 16 4 33 2 22-4-7-4-20-3 4-4 3-4 0-4 22-1-8-1 52-2-52-3-17-4 31-4-12-4-14-4 27-3 5-4-2-4-1-4 37-4 15 0 1-2 67-1-80-1 13-3 3-4 20-4 3-4 1-3 16-4-2-4 11-4-9-4-12-3-5-4-52-4-12-4-5-4-5-3-12-4-9-4-11-4-10-4 56-3 34-4 3-4 0-4-1-4 6-3 8-4 8-4 3-4 6-4 7-3 3-4 10-4 2-4 13-4 2-3-9-4 5-4-9-4-13-4 22-3 7-4 6-4-17-4-17-4-19-3 11-4-5-4 3-4 35-4 3-3-22-4 3-4-5-4 24-4 4-3-9-4 28-4 28-4 11-4 24-3-9-4 15-4 7-4-40-4 21-3 6-4-45-4-40-2 36-2-18 0 136-1-118-3-44-3 21-4 58-4 17-4-34-4 10-3-31-4 52-4-7-4-39-4 26-3-23-4-33-4 1-4 46-4-53-3 68-4-37-4-13-4-19-4-17-3-18-4-19-4-10-4 10-4 28-3 76-4-10-2-23-2-16 0 81-2-65-2-31-4-21-3 90-4-26-4 15-2 19-2-26 0 36-2-10-1-73-4 1-4-6z" fill="#000" stroke="#000" stroke-width="3.2" stroke-linejoin="round"/>
<path d="M1237 1595l4-26 3-23 4 3 4-16 4 1 4 0 3 16 4 2 4 5 4 19 4 2 3-4 4-11 4 8 4-23 4 28 3-43 4 5 4 7 4-6 4-46 3 60 4-18 4 14 4-25 4 1 3 0 4 11 4-15 4-27 4 34 3 14 4-17 4-3 4-13 4 17 3 4 4-2 4-21 4-13 4 33 3-7 4-5 4-23 4 31 4 21 3 26 4-19 4-5 4 17 4-1 3-24 4 23 4-4 4-3 4-3 3 12 4-43 4 41 4 15 4 16 3 10 4-33 4 39 4-34 4 7 3 13 4 28 4 26 4-37 4 27 3 11 4-16 4-6 4 15 4 11 3 15 4 5 4-2 4-17 4 23 3-11 4 13 4 9 4-13 4 33 3-43 4 4 4 15 4-28 4-10 3 41 4-6 4-14 4-5 4 26 3 7 4-20 4-2 4 46 4-46 3 28 4-16 4 14 4-15 4-12 3 14 4-7 4 9 4 0 4 17 3 32 4 6 4-5 4 1 4-26 3 11 4-29 4 38 4 4 4-28 3 35 4-53 4 1 4 8 4 83 3 8 4 28 4-42 4 26 4-2 3-1 4 39 4 0 4-30 4 27 3-29 4 6 4 30 4-31 4 44 3-31 4 13 4-44 4 5 4-26 3-2 4 28 4 14 4-13 4-15 3 29 4 4 4 3 4-7 4 6 3-20 4-16 4 10 4-15 4 3 3 22 4-34 4-4 4-16 4 9 3 18 4-18 4-13 4 27 4-19 3 18 4-34 4-11 4 37 4 9 3-1 4-9 4-35 4 3 4-28 3-1 4 21 4 11 4 7 4-10 3-17 4-35 4 25 4-17 4-6 3-3 4 4 4-17 4-14 4-3 3-4 4-10 4 5 4 12 4-20 3-11 4 11 4 14 4-16 4 5 3 8 4-15 4 7 4 21 4 7 3-1 4-30 4-14 4 14 4-3 3-10 4-5 4-2 4 11 4 1 3-24 4-19 4 19 4-13 4 6 3-7 4-9 4 10 4 23 4-32 3 5 4 11 4 15 4 6 4-2 3-33 4 21 2 61-4-22-3 36-4-28-4 30-4-33-4-8-3 22-4-8-4-18-4 1-4-11-3 14-4-6-4-6-4 30-4-18-3 27-4 15-4-24-4 18-4-15-3 5-4 17-4-9-4 7-4 3-3 17-4 11-4-7-4-11-4 1-3-18-4 4-4-6-4 1-4-12-3 19-4 22-4 6-4 2-4-25-3 34-4-5-4 8-4 28-4-7-3 4-4-2-4 2-4 33-4-8-3 10-4 34-4-9-4-6-4 12-3-16-4 15-4 12-4-24-4 1-3 20-4-5-4-8-4-1-4 14-3 3-4-11-4 23-4 0-4-21-3 5-4 22-4-11-4 23-4 19-3 2-4-8-4 41-4-34-4 6-3 28-4-31-4 23-4 7-4 14-3-3-4-16-4-52-4 22-4-29-3 5-4 47-4 6-4-15-4 10-3 26-4-32-4 15-4 18-4-9-3 13-4-1-4-15-4-21-4 25-3 2-4-43-4 19-4 9-4 0-3-43-4-45-4 38-4-72-4 33-3-20-4 7-4-16-4-7-4 29-3-6-4-13-4 31-4-31-4-3-3 9-4-13-4-11-4-7-4 28-3-3-4-41-4 41-4-13-4-24-3 14-4-18-4 41-4-22-4-17-3 18-4-47-4 5-4-14-4 45-3-15-4 22-4 8-4-7-4-22-3 3-4-4-4 29-4-25-4-26-3 42-4-39-4 21-4-7-4-2-3 0-4 10-4-25-4-18-4-11-3 25-4-16-4-12-4 29-4-7-3-15-4-7-4-14-4-31-4-1-3-13-4 33-4-39-4 21-4-29-3 21-4-8-4-9-4 11-4-39-3 10-4 19-4 17-4-23-4-7-3 10-4-13-4-45-4 21-4 7-3-18-4 33-4-40-4 16-4 13-3-22-4 25-4-19-4 17-4 6-3-4-4-20-4 22-4-6-4 26-3-15-4 4-4 17-4 9-4-5-3-37-4 30-4-46-4 6-4 39-3-14-4 19-4 7-4-6-4 6-3-12-4-17-4 12-4-12-4-19-3 34-4-27-4 25-4-5-4 34-3 14-4-15z" fill="#3953A4" stroke="#3953A4" stroke-width="3.2" stroke-linejoin="round"/></g></g>
<g fill="#ED1C24"><circle cx="771.2" cy="803.1" r="9.2"/><circle cx="812.0" cy="892.4" r="9.2"/><circle cx="833.5" cy="879.8" r="9.2"/><circle cx="850.8" cy="919.1" r="9.2"/><circle cx="868.1" cy="895.8" r="9.2"/><circle cx="868.1" cy="905.3" r="9.2"/><circle cx="885.4" cy="874.6" r="9.2"/><circle cx="885.4" cy="885.6" r="9.2"/><circle cx="902.6" cy="867.6" r="9.2"/><circle cx="926.2" cy="864.1" r="9.2"/><circle cx="937.5" cy="874.6" r="9.2"/><circle cx="955.0" cy="869.9" r="9.2"/><circle cx="960.8" cy="862.8" r="9.2"/><circle cx="972.2" cy="872.6" r="9.2"/><circle cx="988.3" cy="838.0" r="9.2"/><circle cx="1007.1" cy="825.6" r="9.2"/><circle cx="1031.8" cy="774.5" r="9.2"/><circle cx="1041.7" cy="796.1" r="9.2"/><circle cx="1057.7" cy="758.0" r="9.2"/></g>
<clipPath id="c22"><rect x="1117.1" y="689.2" width="452.8" height="272.7"/></clipPath>
<g clip-path="url(#c22)"><g transform="scale(0.5)"><path d="M2652 1712l4-4 4-12 3 4 4 8 4 8 4-91 4-22 0-24 1-6 1-25 1 0 0 31 0 20 1-26 3 54 4 17 4-7 4-11 0 13 1-33 2 20 0 17 4 4 4 16 4 13 4 16 3 15 4 1 4-50 4-54 4 28 3-36 4 5 4 23 4-6 2-45 1-36 1 23 1 13 2 7 4 39 4-11 4 43 2-72 2-14 0-81 2 95 1 54 4-20 4 31 4-15 4 30 3 3 2-83 2-17 0 1 1 16 3-25 4 48 4-5 3 17 4-42 0 7 2-37 2 37 0 87 4 39 4 0 3 8 4-11 4-10 4-5 4-18 3-2 3-57 1-3 1-15 1 18 2 10 4 22 4 22 3 20 4-48 1-10 1-23 2 23 0-1 4 0 4 23 3 23 4 8 4 1 4-7 4 4 3 9 4 1 4 4 4-8 4 10 3-6 4 1 3-30 1 5 1-13 2 8 1-8 4 16 3-12 4 3 4-6 4 2 4 0 3-8 4 3 4-13 4-5 4-12 3-29 2-10 2-7 0 2 1 5 3 11 4 7 4 8 3 14 4 13 4 15 4 6 4 18 3 21 4-49 4 1 4-18 4 1 3-6 4-6 4-5 4-12 3-44 1 6 1-26 1 20 1 34 4 21 4-17 4-10 4-3 3-3 4-8 4-22 1-5 1-5 2 8 0-3 4 17 3-6 4 3 4 12 4 2 4-6 3 9 4-6 4 12 4 4 4-1 3-1 2 30-3-12-4 0-4 6-4-10-4-7-3-3-4-2-4 4-4-9-4 1-3 0-4-9-4 11-4 4-4 8-3 5-4 11-4 3-4 11-4-10-3-29-4 35-4 14-4 0-4 12-3 1-4 11-4 12-4 14-4 32-3 0-4-21-4-12-4-22-4-26-3-12-4-13-4 2-4-6-4 13-3 21-4 10-4 3-4 10-4 10-3 3-4-5-4 1-4 6-4 12-3-3-4 2-4 14-4 2-4-3-3 3-4-4-4 4-4-7-4 5-3-6-4-4-4 4-4-3-4 1-3 1-4-12-4 15-4-13-4 19-3-6-4 11-4-10-4 6-4 6-3 16-4 12-1-4-2 42-1-41 0-1-4-1-4-6-3 12-4-10-4-9-4 5-4-36-3 34-4-1-4-31-4 35-4 1-3-1-4-9-4-9-4 22-4-5-3-1-4-9-4 4-4 16-4-20-3 15-4-15-4-15-4 6-4 12-3 10-4 9-4 3-4 5-4-8-3-12-4-13-4-14-4-23-4-9-3-3-4 25-4-7-4 21-4-19-3 17-4 32-4 8-4-14-1-5-1 83-2-92 0 9-3-3-4 12-4-3z" fill="#000" stroke="#000" stroke-width="3.2" stroke-linejoin="round"/>
<path d="M2234 1570l4-11 3-16 4 6 4 7 4-24 4-8 3 32 4-22 4 30 4-19 4 14 3-18 4 4 4-6 4 19 4-20 3 6 4-15 4-13 4-10 4 23 3-21 4 10 4 37 4-27 4 8 3-29 4 0 4 12 4-1 4-10 3-13 4 38 4 7 4-26 4-13 3 4 4-19 4 20 4-4 4 17 3-15 4-2 4 23 4 16 4-13 3 29 4-7 4 17 4-39 4 27 3-28 4 31 4-7 4-19 4 4 3 20 4 18 4 11 4-2 4 0 3-23 4 32 4-6 4-13 4 11 3 27 4 7 4 14 4-32 4 8 3 9 4 25 4 6 4 18 4-3 3 5 4-16 4-8 4 33 4-26 3 37 4-26 4 0 4 22 4 23 3-40 4 16 4-21 4-8 4 29 3-28 4 2 4 16 4 24 4 4 3 0 4-18 4 11 4 15 4-9 3 10 4-6 4-5 4-29 4-4 3 9 4 47 4-8 4-17 4 1 3-17 4 38 4 3 4-15 4 21 3-9 4 1 4-26 4-28 4 26 3-46 4 21 4-18 4 33 4-7 3-18 4 54 4-27 4 58 4-3 3-42 4 10 4 54 4-57 4 53 3-32 4 64 4-29 4 17 4-48 3 44 4 1 4-65 4 34 4-14 3-28 4 1 4 10 4 58 4-27 3-10 4-28 4 25 4 20 4 19 3 10 4-39 4 41 4-54 4 48 3-24 4-8 4-13 4-42 4-7 3 37 4-2 4 11 4-38 4 30 3-34 4-18 4 42 4-26 4 12 3-40 4 64 4-25 4 1 4 13 3-43 4 46 4-1 4 19 4-56 3 20 4 3 4-10 4 1 4-32 3 5 4 20 4-22 4-12 4-39 3 11 4-13 4 14 4 7 4-9 3 6 4-4 4-23 4 33 4-17 3 2 4 33 4 8 4-20 4-13 3-1 4 10 4-30 4 10 4 6 3-9 4 19 4-4 4 6 4-25 3-2 4-38 4 14 4-31 4-4 3 9 4 12 4-10 4 22 4 22 3-28 4 33 4-38 4 4 4-4 3 7 4 12 2 53-4 27-4-27-3 1-4-5-4 37-4 2-4-39-3 25-4-35-4 14-4-4-4-3-3 1-4 2-4-3-4 30-4-10-3 32-4-19-4 14-4-32-4 28-3-20-4 6-4 17-4 2-4-2-3 17-4 32-4 8-4-36-4-13-3 4-4-22-4-19-4 35-4-22-3 11-4 14-4-15-4 39-4-2-3-14-4 13-4 23-4 46-4-43-3 22-4 11-4 1-4 6-4 29-3 8-4 13-4-60-4 44-4-34-3 1-4 36-4-21-4-24-4 28-3-11-4-20-4 45-4-6-4 14-3 21-4-31-4 3-4-8-4-10-3 24-4 45-4-20-4 30-4-32-3 10-4 24-4-12-4-4-4 12-3 1-4 66-4-52-4-21-4 24-3-35-4 19-4 32-4-51-4 71-3-30-4-19-4 14-4 23-4-46-3 66-4-20-4-27-4 2-4 12-3-12-4 35-4-75-4 28-4 0-3-37-4 8-4 38-4-31-4 2-3-102-4 52-4-12-4-43-4 34-3 32-4 2-4-38-4-3-4 39-3-33-4 4-4-18-4 44-4-23-3-12-4-20-4 23-4 10-4-9-3-2-4-6-4-4-4 5-4 5-3-1-4 1-4-1-4-10-4-30-3 6-4-17-4-11-4 7-4 20-3-14-4 39-4-33-4-1-4 26-3-23-4-10-4-4-4 6-4 2-3 0-4 12-4-9-4 0-4-5-3-13-4-10-4 11-4-19-4 8-3-26-4-15-4 36-4-42-4-15-3 13-4-12-4 15-4-31-4 14-3-4-4 30-4-29-4-29-4 3-3 9-4-38-4-1-4 39-4-7-3 9-4 3-4 34-4-6-4-21-3-33-4-18-4-24-4 5-4 21-3-20-4 27-4 13-4 2-4-11-3-8-4-25-4 45-4-10-4 22-3-50-4 1-4 13-4 10-4-25-3 38-4-12-4 19-4 8-4-2-3-44-4-17-4 21-4-5-4 38-3-21-4 4-4 49-4-1-4-5-3-34-4 22-4-2-4 1-4-23-3 24-4-13-4 18-4 12-4-15-3 2z" fill="#3953A4" stroke="#3953A4" stroke-width="3.2" stroke-linejoin="round"/></g></g>
<g fill="#ED1C24"><circle cx="1269.6" cy="818.1" r="9.2"/><circle cx="1310.0" cy="886.1" r="9.2"/><circle cx="1332.0" cy="878.6" r="9.2"/><circle cx="1348.8" cy="898.2" r="9.2"/><circle cx="1366.1" cy="884.8" r="9.2"/><circle cx="1366.5" cy="897.4" r="9.2"/><circle cx="1383.4" cy="880.9" r="9.2"/><circle cx="1383.4" cy="887.2" r="9.2"/><circle cx="1401.0" cy="876.2" r="9.2"/><circle cx="1418.7" cy="905.7" r="9.2"/><circle cx="1424.5" cy="873.8" r="9.2"/><circle cx="1453.3" cy="871.5" r="9.2"/><circle cx="1458.8" cy="855.8" r="9.2"/><circle cx="1470.6" cy="855.0" r="9.2"/><circle cx="1489.1" cy="826.7" r="9.2"/><circle cx="1505.4" cy="829.1" r="9.2"/><circle cx="1530.0" cy="796.9" r="9.2"/><circle cx="1539.7" cy="813.0" r="9.2"/><circle cx="1556.2" cy="782.2" r="9.2"/></g>
<clipPath id="c30"><rect x="120.4" y="1006.4" width="452.8" height="272.7"/></clipPath>
<g clip-path="url(#c30)"><g transform="scale(0.5)"><path d="M250 2525l3-10 4 4 4-42 4-75 4-227 3-103 4-1 4 61 4 15 4 28 3-150 4-5 4 94 4-2 4-31 3-34 4-17 4 42 4 38 4-96 3 92 4-77 4 54 4-69 4 61 3-21 4-40 4 48 4-48 4 71 3-26 4-45 4 5 4 46 4 92 3 46 4-33 4 89 4-31 4-139 3-60 4-11 4 13 4-17 4 79 3 85 4 123 4 79 4 56 4 48 3 24 4 7 4 11 4-18 4-19 3-24 4-113 4-90 4-114 4-80 3 4 4 17 4 39 4 67 4 43 3-111 4-66 4 149 4-84 4-14 3 29 4-12 4 169 4 16 4 5 3-128 4 48 4-11 4 34 4-44 3-11 4-10 4 114 4 24 4 24 3-55 4 56 4-18 4 1 4 1 3-23 4-129 4 28 4 52 4 2 3 11 4 59 4-40 4-31 4 46 3-37 4 74 4 16 4 26 4 4 3 21 4-18 4 23 4-11 4 14 3 21 4 19 4 3 4 3 4-18 3-37 4-28 4-7 4 6 4-15 3 0 4 28 4 11 4 5 4-10 3 21 4-16 4 3 4 14 4-15 3 19 4-5 4-5 4-175 4 19 3 60 4-189 4-25 4-46 4-41 3 82 4 93 4 38 4-136 4 45 3-28 4 77 4-38 4 6 4-71 3-85 4 89 4 42 4 118 4 80 3-20 4 91 4 46 4 15 4-10 3-148 4-260 4 270 4 10 4 30 3-68 4-92 4-13 4-7 4-43 3 52 4-49 4-20 4-23 4-44 3-27 4 55 4 62 4 119 4 48 3 54 4-126 4-30 4-23 4 46 3 123 4 47 4 51 4 11 4 17 3 12 4 3 4-2 4-14 4 10 3-6 4 13 4-2 4 6 4 8 3-4 4 4 4 0 4-8 4 8 3-7 4-6 4-5 4 4 4-30 3-14 4-45 4-4 4 28 4 1 3 3 4 11 4-85 4-45 4-32 3-111 4-61 4-20 4-28 4-55 3 86 4-86 4 16 4 56 4 1 3-56 4 1 4-18 4 74 4-33 3-41 2 483-3-49-4-76-4 29-4 11-4 65-3-96-4 98-4-22-4-42-4-9-3 32-4-27-4 1-4 52-4-14-3 33-4-22-4 44-4 9-4 9-3 4-4-14-4 28-4-8-4-14-3 11-4 13-4-1-4 5-4-3-3-3-4 4-4-10-4 0-4-3-3 3-4-3-4 3-4-1-4 4-3-9-4 8-4-4-4 5-4-8-3 5-4 12-4-18-4 0-4-6-3-48-4 50-4-37-4 0-4-2-3-5-4 46-4-7-4-98-4 13-3 55-4-24-4 65-4 6-4-51-3-21-4 48-4-78-4 103-4-18-3 9-4-28-4 5-4-5-4 35-3-18-4 0-4-14-4 1-4 5-3 35-4-58-4 26-4-51-4 91-3-79-4 12-4-7-4 22-4-25-3-15-4 4-4 69-4 23-4-91-3 30-4 68-4-20-4-18-4-7-1 25-2 12 0-23-1 11-3-48-4 39-4-18-4-20-3 4-4 2-4 0-4 0-4-13-3 13-4-28-4-3-4 1-4-7-3 9-4-9-4 19-4 3-4 17-3 17-4 1-4 13-4-9-4-27-3-15-4-9-4-5-4 35-4 3-3-3-4-17-4 4-4 35-4 4-3 6-4 1-4 2-4-10-4-26-3 43-4-28-4-55-4 1-4 75-3-11-4-4-4-24-4 20-4 6-3-47-4 41-4-50-4 34-4-23-3-36-4-6-4-44-4 40-4-1-3 5-4 14-4 24-4 68-4 1-3-58-4-14-4-39-4-63-4 50-3-55-4 25-4-20-4-19-4 47-3-24-4 15-4-16-4 47-4 79-3 18-4 22-4 4-4-7-4-4-3-7-4-16-4-52-4-56-4-6-3-49-4-1-4 22-4 41-4 27-3-21-4-14-4 11-4 49-4-7-3-41-4-45-4 19-4-52-4 15-3 112-4-95-4 58-4-63-4-39-3 95-4-58-4 33-4-7-4-18-3 4-4-86-4 28-4 11-4 30-3 76-3 22-1-71-1 171-1-100-2-49-4-43-4-20-3 74-4 35-2-22-2 98 0-98-1 0-3-56-4 48-3-15-4 85-4 40-4 12-4 5-3 0z" fill="#000" stroke="#000" stroke-width="3.2" stroke-linejoin="round"/>
<path d="M263 2418v38M272 2048v155M276 2011v236M302 2035v360M312 2008v179M320 2106v125M340 2013v206M376 2040v186M390 2163v235M412 2008v313M431 2362v79M488 2112v130M498 2172v102M511 2158v119M541 2200v173M559 2212v114M563 2243v73M578 2320v93M627 2273v89M630 2266v128M647 2396v50M653 2406v33M686 2447v60M688 2427v75M723 2407v79M765 2377v95M772 2104v144M782 2040v327M789 2138v234M803 2027v324M806 2126v118M821 2012v305M869 2326v167M872 2343v103M875 2356v106M887 2099v249M912 2044v310M928 2160v271M930 2221v255M938 2322v51M944 2189v272M960 2412v55M1049 2454v75M1052 2437v58M1084 2285v153M1100 2068v279M1116 2010v310M1124 2008v195M1126 2008v273M1130 2008v177M1132 2008v258M1134 2008v352" fill="none" stroke="#fff" stroke-width="2"/>
<path d="M241 2451l4 15 3-10 4-11 4 10 4-51 4-8 3 49 4 12 4-16 4 21 4 20 3 5 4-17 4 7 4-11 4-11 3 1 4-15 4 36 4-22 4-15 3-12 4-4 4 21 4 12 4-9 3 11 4-15 4 4 4-8 4 31 3-14 4 29 4-25 4 21 4-20 3 16 4 1 4-3 4-7 4-7 3 10 4-15 4-13 4 13 4-10 3-4 4-29 4 13 4-7 4 26 3-13 4-1 4-3 4 35 4-9 3-24 4-18 4-15 4-21 4 3 3-5 4 42 4 4 4-25 4-21 3 23 4-38 4 40 4 13 4-23 3-49 4 3 4 15 4-25 4 22 3 5 4 28 4-25 4 6 4 45 3-1 4-26 4 17 4-8 4-12 3-4 4-32 4-46 4 40 4 36 3-6 4-20 4 32 4-57 4 18 3-39 4-2 4 23 4-91 4 50 3 20 4-26 4 56 4-27 4 7 3-6 4 42 4-56 4-34 4 5 3 62 4 3 4-15 4 28 4-117 3 2 4-64 4 23 4 30 4 52 3-70 4 60 4-18 4 15 4 55 3-3 4-49 4-66 4 68 4-65 3 28 4 55 4-80 4 30 4 93 3-32 4-59 4 22 4-48 4-2 3 68 4-5 4 39 4-44 4 61 3 9 4 32 4-15 4 11 4-54 3 48 4-5 4 19 4-16 4-17 3-34 4 24 4 24 4 68 4-49 3-34 4 10 4-12 4 6 4 23 3 6 4-9 4-9 4 45 4-42 3 18 4 5 4-10 4-22 4 18 3-12 4 57 4-20 4-10 4 4 3 18 4 22 4-39 4 35 4-19 3 12 4-19 4 0 4 12 4 30 3-22 4 10 4 1 4-14 4-29 3 21 4 13 4-7 4 54 4-31 3 30 4 5 4-19 4 7 4-7 3 27 4-36 4 25 4-33 4 44 3-32 4 1 4 10 4-19 4 38 3 4 4-13 4 7 4 24 4-16 3 1 4 18 4-7 4-2 4-9 3 13 4 7 4-3 4-6 4-8 3 17 4-4 4-23 4-3 4-19 3 14 4 26 2 41-4-11-3-15-4 25-4-5-4-5-4 4-3 9-4-2-4-4-4 7-4-22-3 18-4-10-4 9-4-10-4 9-3-1-4 0-4-22-4-5-4-4-3 39-4-18-4-26-4 16-4 17-3-2-4 18-4-26-4 14-4-17-3 13-4 6-4-46-4 43-4-17-3 17-4-10-4-23-4 26-4 2-3 3-4-2-4-42-4 28-4-30-3 40-4-31-4 20-4 15-4-5-3-2-4-18-4-17-4-10-4 20-3-34-4-2-4-12-4 7-4 3-3-3-4-14-4 55-4-56-4 49-3-24-4-17-4 47-4-51-4-4-3 46-4-10-4-15-4-32-4 74-3-21-4-7-4 34-4-42-4 23-3-63-4 58-4-7-4-42-4 49-3-64-4 42-4 3-4-15-4-27-3-26-4 0-4 32-4-35-4 17-3 9-4 12-4-50-4-32-4 60-3-7-4-38-4 13-4 5-4 39-3-25-4-22-4 48-4 13-4-39-3 32-4-13-4-77-4 51-4-37-3 42-4 42-4-93-4 9-4 108-3 22-4-1-4 16-4-77-4-26-3 104-4-81-4 42-4-62-4 35-3 19-4-9-4-3-4-46-4 35-3-35-4-8-4 18-4 51-4 2-3-2-4-54-4 37-4-26-4 25-3 12-4-34-4 1-4 11-4 3-3 37-4 8-4-42-4 12-4 26-3-2-4-8-4 5-4 9-4-30-3 0-4-32-4 43-4-29-4 35-3 9-4 5-4-27-4 17-4-22-3 47-4-22-4 1-4 29-4-49-3 31-4-30-4 17-4 41-4 14-3-15-4-17-4 6-4 16-4-25-3-21-4-11-4 29-4 11-4-6-3 15-4-18-4 13-4 2-4-3-3-2-4-4-4 14-4 1-4 9-3-8-4 21-4-14-4 7-4-18-3 33-4-15-4-1-4 17-4-15-3-9-4-8-4 5-4-12-4 14-3-14-4 10-4 10-4-22-4 9-3 23-4 6-4-28-4 23-4-2-3-4-4-13-4-10-4 5-4-21-3 19-4-13-4 10-4 10-4-3-3 15-4-4z" fill="#3953A4" stroke="#3953A4" stroke-width="3.2" stroke-linejoin="round"/></g></g>
<g fill="#ED1C24"><circle cx="265.3" cy="1191.6" r="9.2"/><circle cx="283.1" cy="1244.6" r="9.2"/><circle cx="299.9" cy="1244.3" r="9.2"/><circle cx="317.6" cy="1244.7" r="9.2"/><circle cx="334.7" cy="1223.1" r="9.2"/><circle cx="352.5" cy="1167.0" r="9.2"/><circle cx="369.6" cy="1184.6" r="9.2"/><circle cx="386.9" cy="1011.7" r="9.2"/><circle cx="404.3" cy="1143.7" r="9.2"/><circle cx="421.9" cy="1217.2" r="9.2"/><circle cx="439.2" cy="1256.1" r="9.2"/><circle cx="456.5" cy="1239.6" r="9.2"/><circle cx="473.8" cy="1259.5" r="9.2"/><circle cx="490.0" cy="1263.1" r="9.2"/><circle cx="508.8" cy="1239.2" r="9.2"/><circle cx="533.5" cy="1252.6" r="9.2"/><circle cx="543.4" cy="1197.4" r="9.2"/></g>
<clipPath id="c31"><rect x="618.8" y="1006.4" width="452.8" height="272.7"/></clipPath>
<g clip-path="url(#c31)"><g transform="scale(0.5)"><path d="M1656 2394l4 63 4-17 3-20 4-23 1-39 1-8 2 8 0-7 4 67 2-80 2 20 0-31 1 11 2 26 4 38 4-12 4 14 4-51 1-4 2-35 0 26 1 9 3-2 4 33 4 39 4-10 3 4 2-13 2-50 0 38 1 12 3 10 4-28 0 13 2-48 1 48 1-19 3 2 4 9 3-14 1-14 1-112 1 126 2-7 4 21 3-43 4 26 4-86 4-4 4-39 1-8 1-90 1 132 1-42 3 31 4 5 4 67 3-3 1 21 0-89 2 68 1 20 4-38 3 44 1-1 1-113 2 114 1 54 4-42 2 15 1 17 0-56 2 39 2 23 4 14 4-34 2 29 2-66 0 70 1-4 2 37 4 27 4-7 4 17 4 5 3-23 4 5 4-33 4-16 4 7 3-22 2 2 1-27 1 19 1 8 3 1 4-29 1 0 2-20 1 13 1 7 2-3 4-18 3-27 1-10 0-100 2 110 2 40 4 6 1 7 2-82 0 89 1-7 3 24 4 24 4 43 4 10 3 2 4-2 4-4 4 10 4 9 3-4 4 1 4 14 4 3 4-8 3 1 4-6 4-1 4-1 4 5 3-1 4-7 4-2 4 10 4-17 3 12 4 10 4 3 4 1 4-7 3 6 4-5 4 4 4-11 4-9 3-20 4-29 4-47 4-42 4-3 0-37 2-3 1 3 0-8 4 69 4 1 4 24 4-9 3-4 4 2 4-60 3 12 1-17 1-84 1 101 2 16 3 25 4-5 4-22 0 11 1-18 2 7 1 12 4 24 3-32 4 8 4 0 2-194 1-160 1 152 1 8 1 0 1-160 1 151 1 9 2-9 2 266-4 27-3-18-4 49-4 4-4-21-4 22-3-14-4 8-4 12-4-16-4 0-3-11-4-13-4 11-4-6-4 22-3-19-4 1-4 32-4 21-4-14-3 15-4-8-4-11-4 19-4 3-3 9-4 0-4 0-4-5-4 2-3 2-4 3-4-8-4 0-4 0-3-7-4 7-4-7-4 0-4 2-3 7-4 7-4-7-4 9-4 0-3-4-4-4-4 1-4-6-4 6-3-1-4-6-4 3-4 0-4-9-3-4-4 21-4-25-4 9-4-15-3-1-4 25-4-25-4 6-4 8-3-23-4 35-4-17-4 3-4 11-3 9-4-9-4 14-4-19-4 19-3 0-4-14-4-7-4 4-4 6-3 5-4-32-4 2-4 22-4 7-3-28-4-8-4 26-4 4-4 5-3-29-4 19-4-39-4-22-4 42-3 8-4-23-4 15-4 14-4 21-3-24-4-19-4-2-4 5-4-1-3 19-4 3-4-24-4 0-4 8-3 7-4-34-4-6-4 24-4 45-3-58-4 34-4-35-4 11-4-38-3 33-4 41-4-28-4 22-3-18-4-6-4-27z" fill="#000" stroke="#000" stroke-width="3.6" stroke-linejoin="round"/>
<path d="M1237 2432l4 40 3 2 4 19 4-10 4-30 4 4 3 12 4-22 4 23 4 11 4 26 3-7 4-18 4-3 4 21 4-19 3 11 4-34 4 5 4-1 4-4 3 16 4-12 4 16 4-13 4 18 3-23 4 0 4 0 4 2 4 19 3-19 4-13 4 14 4-11 4-18 3 13 4-6 4 26 4-22 4 13 3-7 4-28 4 22 4-14 4-6 3 15 4-11 4 7 4-8 4-1 3 11 4 11 4-11 4 20 4-19 3 0 4-12 4 24 4-9 4 16 3-10 4-7 4 20 4-25 4-9 3 25 4-24 4 14 4 16 4-4 3-19 4-17 4 14 4-53 4 50 3 7 4-14 4 2 4-6 4 20 3-40 4 19 4 18 4-54 4 10 3 50 4-24 4-9 4 33 4-37 3 13 4 6 4-22 4 6 4 6 3 13 4 4 4-40 4-1 4 36 3-9 4-27 4 15 4-18 4 9 3-11 4 60 4-33 4-36 4 0 3 38 4-14 4 29 4-42 4 1 3 39 4-24 4-4 4 27 4-49 3-12 4 19 4-12 4 4 4 21 3-1 4 40 4-17 4-12 4 27 3-23 4 30 4-16 4-31 4-2 3 30 4-8 4-18 4-18 4 14 3 27 4 3 4-3 4-50 4 2 3 47 4-27 4-5 4 32 4-23 3 22 4-10 4 19 4-34 4 0 3 31 4-4 4 18 4 32 4-4 3-20 4-26 4-8 4-7 4 12 3 30 4-3 4 4 4-21 4-4 3 0 4 25 4 2 4-13 4 13 3-6 4 22 4 1 4 6 4-18 3 28 4-17 4 7 4-8 4-12 3 19 4-15 4-8 4 21 4-20 3-4 4 22 4-4 4 12 4 1 3-8 4-11 4 3 4 14 4 15 3-26 4 13 4 6 4-10 4-5 3 13 4-19 4 26 4-30 4 31 3-10 4 18 4-13 4-14 4 15 3-18 4 16 4-12 4 12 4-5 3-11 4-1 4 12 4-12 4-1 3 8 4 0 4 7 4-9 4 1 3-5 4 1 4 29 4-25 4 11 3-5 4 1 2 46-4 3-3 2-4-9-4 6-4-2-4 1-3 6-4-25-4 14-4-3-4 7-3 4-4-13-4-8-4 6-4-10-3-2-4 13-4 9-4-3-4 5-3-20-4 7-4 6-4 2-4 3-3-4-4 3-4-4-4-15-4 19-3 9-4 2-4-26-4 10-4-8-3 10-4 15-4-1-4-12-4 11-3-23-4 28-4-30-4 29-4-14-3-9-4-9-4 17-4-5-4-10-3-7-4 25-4-16-4-7-4 8-3 16-4-27-4-10-4 14-4 12-3-9-4 0-4-6-4-15-4-1-3 18-4 1-4-14-4-4-4 26-3-31-4 1-4 27-4-23-4 6-3-4-4 8-4-22-4-10-4 13-3 33-4-1-4-25-4 8-4 9-3 11-4-37-4 47-4-21-4-15-3 32-4 9-4-41-4 30-4-17-3-19-4 13-4-1-4 18-4 14-3-20-4 16-4-51-4 54-4-22-3 13-4 5-4-44-4-8-4 21-3-7-4-18-4 24-4-9-4-5-3 19-4-37-4 40-4 13-4-21-3-27-4 52-4-51-4 21-4-11-3 36-4-17-4 1-4-16-4 6-3 19-4-5-4-3-4 6-4-34-3 14-4-9-4 45-4-16-4-40-3 2-4 43-4 4-4-7-4-23-3 35-4-6-4 0-4 1-4 6-3-42-4 43-4-41-4 6-4 47-3-46-4-3-4 14-4-10-4-14-3 48-4-53-4 44-4-17-4 10-3 3-4 17-4-3-4-20-4-12-3 26-4-1-4-29-4 9-4 9-3-5-4-6-4 13-4-13-4 1-3 7-4 15-4-15-4 7-4 12-3-3-4-5-4-14-4 23-4-20-3 17-4-21-4 30-4-25-4-12-3 12-4 18-4-17-4 5-4 15-3-26-4 26-4-12-4 4-4 11-3-3-4-12-4 15-4-17-4 19-3 4-4-21-4 6-4 16-4-22-3 25-4-28-4 1-4 11-4 18-3-7-4-5-4 16-4-6-4 2-3 1-4-17-4-4-4-8-4 16-3-11-4 19-4-7-4-5-4 16-3-3-4-8z" fill="#3953A4" stroke="#3953A4" stroke-width="3.2" stroke-linejoin="round"/></g></g>
<g fill="#ED1C24"><circle cx="771.2" cy="1226.7" r="9.2"/><circle cx="812.0" cy="1243.8" r="9.2"/><circle cx="868.1" cy="1268.6" r="9.2"/><circle cx="926.2" cy="1250.2" r="9.2"/><circle cx="960.8" cy="1262.7" r="9.2"/></g>
<clipPath id="c32"><rect x="1117.1" y="1006.4" width="452.8" height="272.7"/></clipPath>
<g clip-path="url(#c32)"><g transform="scale(0.5)"><path d="M2652 2504l4 5 4 2 3 5 4 3 4 6 4-4 4-10 1-2 2-409 0-1 0 410 1 0 3 1 4 2 4-2 4-2 0-1 1-204 2 205 0-2 4-3 4-2 4-2 4 3 3 9 0 1 2-259 1 258 1 2 4-4 4 2 4-4 2 1 1-1 1-116 2 117 1 0 4 0 4 2 4 0 1-2 1-249 1 248 1 1 2-282 1 284 1-2 3-1 4 0 2 1 2-1 0-432 2 433 1 0 2-329 1 329 1 2 4-2 2-2 2-124 0 125 1-1 3-5 3 5 4-5 3 1 1-2 1-194 2 196 1-1 1-232 1 233 2-3 3 3 0 2 2-242 2 240 0 2 2-385 1 383 1 3 4 10 4 5 3 2 4 1 4 2 4-2 4-2 3 3 4-5 4-4 4-7 4 1 3 2 4 2 4-1 1 2 2-154 1 156 1-2 2-2 1 1 0-141 2 140 1-1 4 5 4 5 4-7 4-475 3-17 4 27 4 20 4-30 4 12 1-21 2-16 0 67 1-51 3 53 4 132 4 309 4 2 3-1 4 2 4 1 4-3 4 0 3 2 4-1 4-2 4-2 4-3 3-5 4 2 4-4 4-1 4 2 3 5 4 2 4 2 4 5 4 5 3 0 4-2 4-2 4 2 4-2 3-1 4-2 4 1 4-3 2-13 2 1 0-165 2 164 1-11 4 1 2 5 1-95 1 96 1-1 3 4 4 0 3 1 4 2 4-36 4-24 4 6 0-1 1-36 2 36 0 8 4-4 4 0 4 3 2 0 2-63 0 67 1-4 2-1 3-1 1-3 0-44 2 47 2-5 2-3 2-75 0 71 1 4 3-14 1-18 2-12 0 18 1-6 1 99-3 2-4-6-4 0-4 3-4-7-3-2-4 1-4 5-4-5-4 4-3-9-4 4-4 3-4 6-4 1-3 1-4-5-4 6-4 1-4 8-3-6-4 1-4 0-4 2-4 0-3 4-4-1-4 3-4 2-4 4-3 4-4-5-4 0-4-5-4-4-3 0-4-4-4 0-4 2-4 3-3 3-4 1-4 2-4 6-4 2-3-3-4-2-4 1-4 1-4 1-3-1-4-2-4-27-4 14-4 34-3-22-4-18-4 4-4-19-4 3-3 31-4 6-4-5-4-5-4-4-3 0-4 3-4 4-4 2-4-7-3 1-4-3-4 3-4 5-4 0-3 4-4 4-4-5-4 6-4 0-3 2-4 1-4-14-4-3-4 0-3 3-4 2-4-4-4 0-4 2-3 3-4-2-4-3-4 3-4-1-3 0-4 2-4 1-4-2-4 0-3-9-4-3-4 0-4-1-4 1-3 0-4 4-4-3-4-3-4 1-3-7-4 1-4-2-4 3-4 0-3 5-4-1-4 3-4-4-4-4-3 9-4 5-4 11-4-4-4-5-3-19-4-2-4 3z" fill="#000" stroke="#000" stroke-width="3.6" stroke-linejoin="round"/>
<path d="M2234 2438l4 43 3 4 4 9 4-6 4-1 4-51 3 28 4 12 4-46 4 26 4 29 3 4 4-21 4 6 4 15 4-16 3-25 4 10 4-5 4-4 4 27 3 10 4-14 4-1 4-8 4 17 3-20 4-13 4-8 4 0 4 7 3 13 4-9 4 8 4 17 4-10 3-17 4-17 4 19 4-1 4-10 3 27 4-35 4 14 4-4 4 10 3-29 4-12 4 2 4 18 4-10 3 25 4 11 4 5 4-40 4 28 3-24 4-3 4 16 4-2 4 9 3 5 4-2 4 19 4-31 4 20 3-41 4 19 4 19 4-15 4-15 3-8 4 6 4 4 4 0 4-23 3 12 4 23 4 7 4-20 4 6 3 27 4-13 4 9 4-6 4-43 3 10 4-12 4 13 4-1 4 20 3-23 4-7 4 35 4-36 4-8 3 7 4-33 4 38 4 22 4-42 3 55 4-30 4-26 4 18 4-4 3 22 4-20 4-7 4 51 4-5 3 0 4 0 4-33 4 18 4-3 3-21 4-23 4 48 4-18 4-50 3 47 4-27 4 27 4-1 4 27 3-38 4 27 4-32 4 36 4 19 3 6 4-43 4 19 4-18 4-6 3 3 4 36 4-16 4-42 4 30 3-37 4 59 4-28 4 28 4-33 3 28 4-10 4-36 4 39 4 15 3-42 4-11 4 12 4 24 4-17 3 46 4-25 4 22 4 40 4-11 3 6 4-16 4-17 4-36 4 37 3 9 4 8 4 3 4-9 4 12 3-2 4-27 4 29 4-48 4 45 3-31 4 42 4-39 4 12 4 14 3-26 4-1 4 15 4 6 4-11 3 1 4 18 4-7 4 18 4-29 3 16 4-2 4-2 4-17 4 2 3 2 4 20 4-6 4 16 4-31 3 17 4 9 4 6 4-5 4 8 3 11 4-14 4-26 4 11 4-2 3-6 4 9 4-2 4 14 4 9 3-6 4-17 4 7 4 12 4-6 3-3 4-7 4-2 4 14 4-15 3-3 4 12 4 7 4 3 4-14 3-7 4 8 4 19 4 0 4-7 3-7 4 17 2 24-4 5-4-8-3 2-4-8-4-5-4 24-4-5-3-3-4-6-4 1-4 4-4-8-3-4-4-2-4 3-4-5-4 14-3 1-4 8-4-7-4-16-4 17-3 2-4-3-4 0-4-20-4 31-3-24-4-4-4 9-4-2-4-3-3 11-4 3-4-14-4 25-4-26-3 15-4-24-4 25-4-7-4-5-3 22-4-9-4-27-4 15-4 7-3 7-4-23-4 34-4-9-4-22-3-7-4 29-4-1-4-17-4-9-3 10-4 4-4 1-4 11-4-15-3-11-4 27-4-11-4-13-4-7-3 3-4-8-4 27-4-22-4 1-3 9-4-11-4-8-4 21-4 1-3 15-4-8-4-22-4 0-4 22-3-23-4-25-4 46-4-30-4 20-3 23-4-50-4 35-4-41-4 65-3-42-4-26-4 41-4-11-4 13-3-42-4 19-4 1-4 20-4-25-3 19-4 11-4 11-4 5-4-36-3 21-4-27-4-1-4 42-4-18-3-36-4 36-4-14-4-28-4 21-3 33-4-58-4 26-4 40-4-19-3-40-4 35-4-13-4 32-4-4-3-21-4 1-4 21-4-37-4 22-3-46-4 13-4 30-4 9-4 11-3-40-4 21-4-37-4 17-4 42-3-27-4 19-4-37-4 1-4 0-3 10-4 17-4 11-4-45-4 47-3 0-4-9-4 10-4-25-4-12-3 4-4 26-4-48-4 24-4-21-3 50-4 4-4-17-4-8-4 1-3-4-4-25-4 7-4-4-4 8-3-5-4 19-4-23-4 31-4-3-3-6-4-9-4 5-4 9-4-20-3-8-4 26-4 3-4-19-4 10-3 6-4-30-4 42-4-15-4 7-3-11-4-9-4 13-4-12-4 20-3 0-4 7-4-30-4 16-4-1-3-3-4 2-4 16-4-19-4 13-3-14-4 25-4 1-4-2-4-8-3 7-4-13-4 5-4 7-4-6-3-4-4-15-4 38-4-23-4 26-3-1-4-5-4-16-4 13-4-3-3 11-4-24-4-1-4 12-4-1-3 0-4 9-4 5-4-3-4 4-3-15z" fill="#3953A4" stroke="#3953A4" stroke-width="3.2" stroke-linejoin="round"/></g></g>
<g fill="#ED1C24"><circle cx="1269.6" cy="1242.7" r="9.2"/><circle cx="1310.0" cy="1262.3" r="9.2"/><circle cx="1366.4" cy="1271.8" r="9.2"/><circle cx="1424.7" cy="1264.7" r="9.2"/><circle cx="1459.2" cy="1260.8" r="9.2"/></g>
<clipPath id="c40"><rect x="120.4" y="1323.5" width="452.8" height="272.7"/></clipPath>
<g clip-path="url(#c40)"><g transform="scale(0.5)"><path d="M241 2751l4-15 3-6 4-5 4-5 4-10 4 2 3 4 4 7 4 2 4-10 4 5 3-2 4-3 4 2 4 3 4-3 3-7 4-6 4 9 4 1 4 10 3 7 4-3 4-11 4-7 4-8 3 1 4 5 4-3 4-1 4 8 3-3 4-6 4-1 4 4 4 0 3-1 4-4 4 7 4 5 4-3 3-4 4 2 4 4 4 13 4 10 3 12 4 0 4-9 4-14 4-5 3-5 4 1 4 3 4 3 4 4 3 1 4 15 4 9 4 8 4 0 3-6 4-2 4 0 4-1 4 9 3 11 4 14 4 13 4-5 4-4 3 0 4 11 4 20 4 1 4-13 3-8 4-15 4 4 4 12 4-1 3 9 4-6 4-3 4 9 4 9 3 10 4-8 4 0 4-3 4-5 3-8 4-8 4 4 4 18 4 22 3 28 4 29 4 25 4 6 4-29 3-29 4 17 4 12 4-53 4-11 3 3 4 13 4 12 4 8 4 12 3 22 4-16 4-4 4 0 4-1 3 25 4 9 4 14 4-10 4 27 3-14 4-11 4-24 4-5 4 3 3 5 4-51 4 23 4-12 4-25 3 39 4-23 4 18 4-14 4-24 3 9 4 39 4-9 4-51 4 50 3-46 4 19 4 15 4-37 4-12 3 10 4 3 4-37 4 5 4 41 3-2 4-15 4 0 4-22 4 13 3-16 4 45 4-25 4-10 4-10 3 23 4 4 4 12 4 6 4-20 3-38 4 26 4 12 4 10 4-11 3-15 4 11 4-3 4 15 4-12 3-3 4-13 4 3 4-6 4 8 3 12 4-8 4-6 4 13 4-10 3-20 4-2 4-4 4 7 4 12 3-15 4-25 4-8 4-1 4 17 3-7 4 1 4 11 4-13 4-24 3 5 4 11 4 10 4 11 4 5 3 7 4 6 4 7 4-20 4-20 3-12 4-5 4 6 4 5 4 2 3 0 4 20 4-7 4-16 4-17 3-8 4 0 4-5 4-9 4 3 3 7 4 1 4-1 4 3 4 1 3 3 4 3 4 7 4 2 4-6 3-6 4 3 2 3-4 0-3 6-4 8-4-4-4-6-4-2-3-3-4-3-4 0-4-3-4 1-3-7-4-5-4 6-4 9-4-3-3 10-4 19-4 18-4 3-4-15-3-6-4-2-4-5-4-5-4 7-3 8-4 21-4 21-4-6-4-8-3-5-4-3-4-11-4-16-4-8-3-3-4 22-4 13-4-11-4 0-3 6-4-16-4-3-4 9-4 41-3 16-4-8-4 4-4-12-4 20-3 14-4 6-4-17-4 3-4 9-3 2-4-7-4 6-4 7-4 11-3-4-4 0-4 7-4-4-4-1-3 24-4 8-4-5-4 3-4-3-3 5-4 29-4-4-4-10-4-10-3 11-4-22-4 27-4 20-4 28-3-5-4 23-4-6-4-10-4 6-3-30-4-15-4-10-4 37-4-35-3 12-4 49-4 17-4 53-4-11-3 3-4 29-4 16-4-59-4-10-3 23-4-32-4-19-4 13-4 8-3 51-4-22-4 5-4-48-4 15-3-26-4-2-4 8-4 0-4 31-3 8-4-6-4-17-4-5-4-28-3-33-4 20-4 5-4 20-4-21-3-2-4-58-4-18-4-9-4-16-3-6-4 14-4 58-4-13-4-14-3 30-4 25-4-8-4-26-4-28-3-29-4-26-4-19-4 4-4 3-3 7-4 6-4 7-4 1-4 4-3-8-4-12-4-11-4 7-4 4-3 0-4-10-4-2-4-8-4 11-3 6-4 16-4-3-4-14-4-13-3-5-4 1-4 5-4-12-4-12-3-15-4-6-4-4-4 2-4 2-3 3-4 3-4-4-4-10-4-14-3-5-4 0-4-4-4-6-4-2-3 4-4 11-4 12-4 9-4 2-3-11-4-14-4-10-4-9-4 3-3-2-4 5-4-5-4-4-4 3-3-1-4 1-4-3-4 3-4 3-3 7-4-12-4 1-4 0-4 2-3-2-4 6-4 8-4 6-4 7-3-6-4-9-4-7-4-3-4 4-3 6-4 0-4-1-4 1-4 1-3 4-4-5-4 6-4-3-4-5-3-1-4-2-4 5-4 9-4 6-3 1-4 19z" fill="#3953A4" stroke="#3953A4" stroke-width="6" stroke-linejoin="round"/></g></g>
<g fill="#ED1C24"><circle cx="271.3" cy="1427.9" r="9.2"/><circle cx="332.1" cy="1460.4" r="9.2"/><circle cx="375.9" cy="1410.6" r="9.2"/><circle cx="410.5" cy="1533.2" r="9.2"/><circle cx="445.2" cy="1448.8" r="9.2"/><circle cx="471.4" cy="1404.5" r="9.2"/></g>
<clipPath id="c41"><rect x="618.8" y="1323.5" width="452.8" height="272.7"/></clipPath>
<g clip-path="url(#c41)"><g transform="scale(0.5)"><path d="M1237 2757l4-24 3-6 4-4 4-6 4-2 4 3 3 0 4 7 4 6 4-18 4 9 3 2 4-3 4 2 4 2 4-5 3-9 4 2 4 6 4 7 4 4 3 8 4 5 4-13 4-10 4-1 3-4 4 2 4-1 4 3 4 9 3-15 4-1 4 2 4 2 4 4 3-12 4 7 4 7 4 0 4-10 3 5 4 4 4 8 4 14 4 8 3 16 4-19 4-4 4 8 4-16 3-3 4-4 4 6 4 8 4 0 3 6 4 4 4 12 4 10 4-1 3-9 4 1 4 4 4 6 4 5 3 11 4 7 4 21 4-10 4-2 3 10 4 5 4 19 4 10 4-17 3-9 4-3 4-1 4 2 4 11 3 16 4-12 4-24 4 12 4 12 3 10 4 7 4 6 4 5 4-13 3-7 4-25 4 14 4 16 4 27 3 26 4 17 4 22 4-16 4-16 3-7 4-8 4-9 4-22 4-3 3 8 4 6 4 13 4 16 4 7 3-5 4-1 4-17 4-2 4-8 3 36 4 15 4-10 4 1 4 0 3-20 4-5 4 23 4-30 4-21 3-13 4-47 4 23 4-6 4 3 3 14 4-13 4 6 4 7 4 30 3-32 4 47 4 29 4-48 4-41 3 20 4 12 4 8 4-36 4-36 3 18 4-4 4 10 4 24 4 1 3-3 4-21 1 0 2-81 1 99 1-18 3-1 4 42 3-35 4 22 4-45 4-24 4-10 3-8 4 33 4 10 4-13 4 20 3-37 4 8 4 20 4-8 4 8 3-11 4 8 4-2 4 3 4-5 3 5 4 8 4-14 4-2 4 10 3-8 4-9 4-17 4 20 4 7 3-19 4-18 4 10 4 6 4 6 3-6 4-23 4-13 4 0 4 15 3-8 4-3 4 11 4-12 4-17 3 4 4 6 4 9 4 10 4 8 3 9 4 4 4 3 4-14 4-13 3-10 4-6 4 5 4 3 4 4 3 6 4 10 4 1 4-13 4-16 3-11 4-10 4-14 4 10 4 5 3 0 4 1 4 5 4 3 4 4 3 3 4 1 4 2 4 5 4-4 3-6 4 3 2 6-4-1-3 1-4 4-4-4-4-1-4-1-3-6-4-1-4-1-4-4-4-1-3-3-4-4-4-9-4 12-4 13-3 11-4 13-4 12-4 0-4-11-3-3-4-8-4 0-4-6-4 9-3 9-4 11-4 14-4-3-4-6-3-7-4-8-4-10-4-6-4-10-3-1-4 18-4 9-4-13-4 8-3 5-4-15-4 0-4 11-4 36-3 16-4-6-4-12-4 3-4 12-3 21-4-11-4 0-4 3-4 13-3 1-4 1-4-6-4 21-4-2-3-4-4-3-4 0-4 12-4-12-3 18-4-21-4 10-4 17-4 12-3 15-4 1-4-35-4 7-4-12-3-12-4-4-4 21-4 88-4 27-3 38-3 3-1-41-1 45-1-4-2-14-4-48-4-11-3-14-4 32-4-41-4 19-4-20-3 24-4-15-4 141-4-42-4 29-3 110-1-12-2 4-1-6 0 2-4-53-4-22-4-24-3-54-4 2-4 14-4-2-4 94-3-34-4 37-4-81-4 7-4-36-3-14-4 7-4 15-4-20-4 2-3 22-4 12-4-25-4 10-4-24-3-33-4-15-4 2-4 13-4 12-3-6-4-31-4-13-4-9-4-18-3-9-4 13-4 16-4 9-4 5-3 7-4 19-4 14-4-15-4-19-3-32-4-23-4-23-4-8-4 20-3 8-4 16-4-5-4-5-4-13-3-8-4-13-4-9-4 17-4 13-3-13-4-9-4-8-4 0-4 9-3 15-4 12-4-13-4-14-4-6-3-12-4 3-4 11-4-19-4-14-3-14-4-8-4-5-4-1-4-2-3 10-4 4-4-17-4-8-4-7-3-3-4-3-4-5-4-5-4 1-3 2-4 15-4-7-4 5-4 18-3-14-4-6-4-12-4-13-4-5-3-1-4 7-4 2-4-8-4-6-3 9-4 0-4-1-4-6-4 5-3 11-4-10-4-2-4 1-4 1-3 0-4 4-4 6-4 13-4-2-3-7-4-6-4-6-4-4-4-6-3 8-4 9-4-2-4 0-4 0-3-4-4-8-4 19-4-6-4-7-3 0-4-5-4 7-4 2-4 4-3 6-4 23z" fill="#3953A4" stroke="#3953A4" stroke-width="6" stroke-linejoin="round"/></g></g>
<g fill="#ED1C24"><circle cx="769.7" cy="1392.3" r="9.2"/><circle cx="830.6" cy="1491.6" r="9.2"/><circle cx="874.4" cy="1409.9" r="9.2"/><circle cx="908.9" cy="1435.0" r="9.2"/><circle cx="943.8" cy="1375.3" r="9.2"/><circle cx="969.9" cy="1371.0" r="9.2"/></g>
<clipPath id="c42"><rect x="1117.1" y="1323.5" width="452.8" height="272.7"/></clipPath>
<g clip-path="url(#c42)"><g transform="scale(0.5)"><path d="M2234 2737l4-17 3 2 4-5 4 0 4-3 4 0 3 5 4 8 4 5 4-8 4-5 3-1 4 1 4-1 4 4 4-6 3-3 4 0 4 3 4 4 4 4 3 11 4 0 4-10 4-8 4-3 3-3 4 0 4 0 4 7 4 3 3-1 4-7 4 0 4 0 4 1 3-1 4 1 4 5 4-1 4-6 3 7 4 0 4 9 4 11 4 7 3 6 4 1 4-10 4-4 4-9 3-3 4 3 4 5 4 8 4-1 3 4 4 8 4 4 4 19 4-11 3-6 4 1 4 5 4 6 4 10 3 12 4 10 4 6 4-2 4 2 3 7 4 5 4 7 4 11 4-9 3-8 4-3 4 0 4 1 4 12 3 13 4-18 4-2 4 3 4 9 3 15 4 1 4-3 4-2 4 5 3-9 4-15 4 12 4 21 4 29 3 16 4 16 4-4 4-4 4-9 3-3 4-3 4-20 4-13 4-8 3 0 4 14 4 7 4 23 4-1 3 22 4-13 4 3 4-17 4-1 3-4 4 45 4-5 4-13 4 15 3-33 4-3 4 44 4-26 4-63 3-28 4 12 4-11 4 35 4 7 3-14 4-5 4-27 4 42 4-41 3 44 4-29 4 27 4 30 4-6 3-42 4-14 4 2 4 9 4-55 3 11 4 32 4-31 4 6 4 40 3-20 4 26 4-26 4-2 4 34 3-57 4 5 4-27 4-17 4-5 3 6 4 22 4 19 4 15 4-16 3-8 4 4 4 10 4 9 4-17 3-7 4 11 4-2 4 10 4-3 3-11 4 1 4-6 4 7 4 7 3-7 4-23 4 3 4 3 4-2 3-9 4-7 4 2 4-2 4-8 3 1 4-8 4-16 4-4 4 11 3-9 4-1 4 13 4-13 4-14 3 5 4 8 4 6 4 10 4 3 3 3 4 10 4 7 4-6 4-17 3-5 4-6 4 1 4 0 4 3 3 5 4 10 4 1 4-14 4-7 3-10 4-9 4-7 4-1 4 5 3 1 4 6 4 0 4 4 4 3 3 2 4 1 4 3 4 3 4-3 3-3 4 3 2 9-4-4-4 2-3 1-4 1-4-4-4-5-4 0-3-6-4-2-4-2-4-4-4 2-3-7-4-1-4 11-4 9-4 8-3 7-4 13-4-3-4-6-4-7-3-5-4 2-4-4-4 6-4 11-3 10-4 9-4-6-4-8-4-4-3-4-4-8-4-10-4-5-4-6-3 12-4 15-4-15-4 0-4 11-3-10-4 6-4 11-4 24-4 17-3-7-4 4-4 0-4 9-4 4-3 7-4-1-4-4-4 21-4 7-3-5-4 2-4-3-4 22-4-1-3 10-4-17-4-2-4 7-4 27-3-23-4 5-4-21-4 21-4 17-3 1-4-15-4-17-4-2-4-14-3 19-4 23-4 51-4 29-4 16-3 33-4-37-4 0-4 11-4 22-3-12-4-52-4-19-4 24-4-20-3 26-4 33-4 24-4 48-4 18-3 11-4-14-4-19-4-37-4 16-3-32-4-10-4-6-4 5-4 65-3-36-4 23-4-4-4-21-4 9-3 6-4 17-4-27-4-7-4 23-3-13-4 4-4-30-4-34-4-11-3 6-4 15-4 9-4 17-4-29-3-3-4-41-4-23-4-19-4 1-3 15-4 10-4 16-4 2-4 4-3 5-4 6-4 6-4-9-4-21-3-29-4-25-4-8-4 14-4 6-3-7-4 4-4 6-4-2-4-16-3-4-4-7-4 2-4 15-4-12-3-6-4-7-4-1-4 0-4 14-3 9-4-16-4-6-4-4-4-3-3-2-4-2-4-12-4-8-4-9-3-8-4-12-4 1-4-1-4 3-3 6-4-14-4-5-4-9-4-2-3-2-4-6-4-8-4-2-4 6-3 2-4 14-4 1-4 6-4-11-3-6-4-11-4-6-4-5-4-5-3 6-4-2-4-4-4-3-4 3-3 2-4-4-4 3-4 4-4 2-3-5-4-2-4-3-4 2-4 1-3 4-4 7-4 13-4-2-4-10-3-2-4-9-4 1-4-3-4 4-3 2-4 3-4-3-4-1-4 0-3 5-4 10-4-8-4-5-4-4-3 0-4 1-4 3-4 4-4-1-3 17z" fill="#3953A4" stroke="#3953A4" stroke-width="6" stroke-linejoin="round"/></g></g>
<g fill="#ED1C24"><circle cx="1329.0" cy="1473.8" r="9.2"/><circle cx="1372.4" cy="1436.1" r="9.2"/><circle cx="1406.9" cy="1454.6" r="9.2"/><circle cx="1442.3" cy="1381.9" r="9.2"/><circle cx="1467.9" cy="1378.4" r="9.2"/></g>
<clipPath id="c50"><rect x="120.4" y="1640.6" width="452.8" height="272.7"/></clipPath>
<g clip-path="url(#c50)"><g transform="scale(0.5)"><path d="M244 3822l4-1 4-3 3 0 4 0 4 3 4-2 4 1 3-3 4 0 4 2 4-1 4 2 3-1 4 0 4 0 4 1 4-1 3 2 4-3 4 0 4-2 4-1 3 3 4 2 4-1 4 1 4 0 3 0 4 0 4-1 4 0 4 0 3 1 4 0 4-1 4 1 4 0 3 0 4 0 4-1 4 0 4 1 3-4 4-1 4-1 4-5 4 1 3 0 4 5 4 3 4 1 4 1 3-1 4-2 4-1 4-2 4-2 3-5 4-3 4 0 4 6 4-2 3-2 4 4 4-3 4-6 4-11 3-5 4-1 4 2 4-6 4 1 3-8 4-5 4 9 4 7 4-2 3 0 4-4 4-9 4-7 4 9 3 10 4-11 4-2 4-5 4-6 3 3 4 3 4 6 4 11 4 0 3-6 4-19 4-25 4-18 4-18 3-7 4-4 4 20 4 28 4-9 3-21 4 20 4 33 4-8 4-16 3-13 4-10 4-14 4-12 4-22 3-7 4 14 4 19 4 16 4 30 3-33 4-35 4-26 4 33 4 68 3-21 4-19 4-20 4-16 4-12 3-15 4-20 4 6 4 21 4 50 3 20 4-28 4-6 4-7 4-15 3-11 4-10 4 15 4 15 4 8 3 19 4 21 4 9 4 12 4 14 3-13 4-11 4-9 4 1 4-10 3-8 4-12 4 11 4 1 4 7 3 25 4 36 4 1 4-1 4-7 3-10 4-4 4 1 4 12 4 8 3 1 4-1 4 10 4 16 4-6 3-8 4-7 4-1 4-5 4 17 3 2 4 0 4-1 4 3 4 4 3 2 4 1 4-9 4-1 4 12 3 1 4-7 4-3 4 4 4 7 3 11 4 7 4-3 4 0 4 3 3-2 4 1 4 5 4-4 4-3 3-3 4-2 4-2 4-4 4-1 3-3 4 6 4 7 4 2 4 3 3-2 4-1 4-1 4 1 4-6 3-1 4 4 4 6 4 1 4 2 3 2 4-1 4 0 4 1 4 0 3 0 4-2 4 1 4-3 4 1 3 0 4-1 4 0 4 2 4 0 1 3-3-1-4-2-4 1-4-1-4 2-3 0-4 2-4-1-4 1-4 0-3 1-4 0-4 0-4-1-4-1-3-2-4 0-4-5-4-7-4 2-3 5-4 0-4 2-4 1-4 1-3-3-4-3-4-6-4-6-4 2-3 2-4 3-4 2-4 3-4 3-3 3-4 3-4-6-4 0-4 3-3-2-4-1-4 2-4-1-4-7-3-11-4-6-4 5-4 6-4 5-3-19-4 7-4 5-4-4-4 0-3-4-4 5-4-8-4 4-4-8-3-9-4-1-4 5-4 6-4 4-3 10-4-16-4-8-4 1-4-6-3-3-4-13-4-4-4 9-4 10-3 1-4 2-4-1-4-33-4-27-3-2-4-2-4-10-4 5-4 10-3 11-4 0-4 4-4 20-4 2-3-6-4-10-4-11-4-20-4-22-3-7-4-14-4-18-4 12-4 11-3 17-4 0-4 13-4 28-4-20-3-48-4-22-4-10-4 19-4 13-3 11-4 21-4 19-4 20-4 19-3-61-4-39-4 25-4 34-4 40-3-36-4-13-4-17-4-12-4-1-3 21-4 19-4 13-4 12-4 7-3 16-4 5-4-25-4-27-4 25-3 11-4-32-4-22-4 5-4 12-3 13-4 18-4 26-4 18-4 8-3-3-4-9-4-5-4-5-4 0-3 1-4 7-4 6-4 4-4-7-3-7-4 9-4 7-4 3-4 1-3 1-4-6-4-10-4 8-4 5-3 1-4 7-4-1-4 0-4 4-3 6-4 6-4 0-4-2-4 0-3 1-4-3-4 0-4 1-4 7-3 2-4 1-4 2-4 0-4 0-3 1-4 0-4-4-4-6-4-1-3 1-4 3-4 2-4 4-4 1-3 0-4-1-4 1-4 0-4 0-3 1-4-1-4 1-4-1-4 0-3 0-4-1-4 1-4-1-4 3-3-1-4-2-4 1-4-2-4-1-3 1-4 1-4 1-4 0-4 0-3-1-4 1-4-1-4 1-4-1-3 2-4-1-4-1-4 0-4 0-3 1-4 1-4-1-4-1-4 0-3 2-4 1z" fill="#3953A4" stroke="#3953A4" stroke-width="5.2" stroke-linejoin="round"/></g></g>
<g fill="#ED1C24"><circle cx="332.2" cy="1912.3" r="9.2"/><circle cx="375.9" cy="1884.3" r="9.2"/><circle cx="410.5" cy="1906.8" r="9.2"/><circle cx="445.5" cy="1875.3" r="9.2"/><circle cx="471.4" cy="1883.2" r="9.2"/></g>
<clipPath id="c51"><rect x="618.8" y="1640.6" width="452.8" height="272.7"/></clipPath>
<g clip-path="url(#c51)"><g transform="scale(0.5)"><path d="M1238 3821l4-1 4-1 4-1 4 0 3 3 4-2 4-1 4 0 4 1 3 0 4-1 4 1 4-1 4 0 3 0 4 0 4 1 4 1 4 0 3-1 4-2 4-1 4 0 4 2 3 2 4-1 4 1 4 1 4-2 3 0 4 0 4 1 4-1 4 1 3-1 4 1 4 0 4-1 4 1 3-1 4 1 4-1 4 0 4-4 3-3 4-2 4-1 4 1 4 3 3 2 4 1 4 0 4 0 4-1 3-2 4-1 4-5 4-1 4-3 3-3 4 3 4 1 4-4 4 3 3 1 4-5 4-9 4-7 4-10 3 3 4 2 4-9 4-2 4-9 3 0 4 7 4 2 4 1 4-3 3-3 4-12 4 0 4 11 4-4 3-8 4-3 4-7 4-4 4 2 3 2 4 7 4 10 4 5 4-14 3-21 4-22 4-24 4-9 4-7 3 7 4 13 4 4 4-17 4 8 3 26 4 16 4-14 4-9 4-8 3-7 4-19 4-21 4-14 4 22 3 17 4 24 4 7 4-11 4-14 3-23 4-1 4 29 4 21 4 7 3-12 4-13 4-22 4-13 4-10 3-11 4 12 4 26 4 25 4 11 3-4 4-10 4-12 4-21 4-13 3-7 4 20 4 15 4 12 4 24 3 17 4 16 4-12 4 4 4-3 3-13 4 0 4 7 4-15 4-4 3 3 4-3 4-9 4 23 4 30 3 18 4 4 4-6 4-8 4-9 3 1 4 6 4 8 4 7 4-7 3-6 4 14 4 18 4-7 4-11 3-6 4-3 4 5 4 8 4-3 3-1 4 5 4 9 4 5 4-8 3-7 4 9 4 10 4 5 4 0 3-7 4 0 4 11 4 8 4 8 3-1 4-3 4 4 4-1 4-3 3 4 4 5 4-5 4-2 4-2 3-3 4-3 4-2 4-2 4-1 3 6 4 3 4 3 4 1 4-1 3 0 4 0 4-1 4-4 4 1 3 3 4 5 4 1 4 3 4 0 3 0 4-2 4 0 4 0 4-1 3 0 4 0 4 0 4-1 4-3 3-1 4 1 4 3 2 3-4-2-4-1-3-1-4 3-4 0-4 2-4-1-3 0-4 1-4 0-4 0-4 1-3 0-4 1-4-3-4 0-4-4-3-5-4-2-4 5-4 1-4 1-3 0-4 1-4-2-4-3-4-2-3-5-4-1-4 3-4 2-4 3-3 2-4 2-4 3-4 3-4-4-3-3-4 2-4 1-4-4-4 4-3-2-4-5-4-8-4-3-4-1-3 6-4-4-4-4-4-11-4-5-3 6-4 3-4-3-4-9-4-3-3 3-4 4-4-9-4-5-4 6-3 1-4 10-4 9-4-21-4-11-3 4-4 7-4-4-4-9-4-4-3 0-4 4-4 12-4-1-4-5-3-11-4-34-4-22-4 6-4 5-3-2-4 9-4 8-4-2-4-2-3 16-4 0-4 0-4 6-4-9-3-19-4-21-4-16-4-17-4-15-3 1-4 16-4 18-4 13-4 7-3 5-4-6-4-27-4-23-4-16-3 12-4 5-4 17-4 23-4 17-3 5-4-6-4-17-4-33-4 4-3 19-4 18-4 10-4-10-4-18-3-24-4-16-4 13-4 18-4 18-3 7-4 10-4 11-4 9-4-11-3-27-4-10-4 21-4-7-4-11-3-8-4 10-4 11-4 15-4 23-3 26-4 13-4-8-4-11-4-5-3-2-4 1-4-1-4 9-4 4-3 6-4 5-4-12-4-1-4 14-3 6-4 5-4-5-4 0-4-6-3-4-4 6-4 4-4 11-4-3-3 2-4 5-4 5-4 8-4 3-3-2-4 0-4 2-4 0-4-5-3 5-4 2-4 4-4 2-4 1-3 2-4 1-4 0-4-1-4 1-3-2-4-3-4-2-4 1-4 2-3 3-4 5-4 0-4 1-4-2-3 1-4 0-4 0-4 1-4 0-3-1-4 0-4-2-4 1-4-1-3 2-4 0-4 0-4 1-4-2-3 1-4-4-4 1-4 0-4 3-3-1-4 1-4-1-4 0-4 0-3 0-4 1-4 1-4-2-4 0-3-2-4 2-4 1-4 1-4-1-3-1-4-1-4 3-4-1-4 2z" fill="#3953A4" stroke="#3953A4" stroke-width="5.2" stroke-linejoin="round"/></g></g>
<g fill="#ED1C24"><circle cx="769.7" cy="1904.4" r="9.2"/><circle cx="831.1" cy="1834.8" r="9.2"/><circle cx="874.4" cy="1868.6" r="9.2"/><circle cx="908.9" cy="1846.3" r="9.2"/><circle cx="943.8" cy="1902.1" r="9.2"/><circle cx="969.9" cy="1899.2" r="9.2"/></g>
<clipPath id="c52"><rect x="1117.1" y="1640.6" width="452.8" height="272.7"/></clipPath>
<g clip-path="url(#c52)"><g transform="scale(0.5)"><path d="M2234 3821l4 0 4 0 4 0 4-1 3 1 4-2 4 0 4-1 4 0 3 1 4 1 4-1 4 1 4 0 3 1 4-2 4 2 4-2 4-1 3 1 4-1 4 0 4-1 4 1 3 0 4 1 4 1 4 0 4-1 3 1 4 0 4 1 4 0 4 0 3-1 4 1 4-1 4 1 4-1 3 1 4-1 4-2 4 1 4-1 3-3 4-5 4 0 4 0 4 3 3 1 4 1 4 1 4 1 4-1 3-2 4-2 4 0 4-3 4-5 3 0 4-1 4 1 4-1 4 0 3-6 4 1 4-8 4-12 4-6 3 3 4-2 4-2 4-5 4-8 3 2 4-1 4 2 4-1 4-4 3-1 4-9 4-4 4 4 4 6 3-5 4-10 4-3 4-8 4 1 3 2 4 6 4 3 4 9 4-9 3-17 4-23 4-21 4-9 4-8 3-1 4 9 4 4 4-6 4-17 3 30 4 22 4 8 4-6 4-12 3 0 4-14 4-9 4-5 4 10 3 24 4 11 4 3 4-13 4-9 3-11 4 0 4 28 4 13 4 4 3-12 4-16 4-12 4-11 4-11 3-11 4 11 4 14 4 16 4 6 3-7 4-6 4-8 4-11 4-8 3 0 4 7 4 15 4 11 4 12 3 17 4 18 4 8 4 2 4-21 3-13 4-6 4-10 4-8 4-1 3-4 4 2 4 6 4 22 4 33 3 21 4 7 4-3 4-9 4-7 3-3 4 10 4 6 4 0 4-1 3-11 4-3 4 14 4-1 4-1 3-9 4 2 4 10 4 7 4 3 3-5 4-1 4 11 4 5 4-8 3-5 4 5 4 10 4 8 4 1 3-7 4-4 4 9 4 8 4 7 3 1 4-1 4 2 4 0 4-2 3 3 4 2 4-1 4-2 4-2 3-2 4-4 4-1 4-3 4-1 3 4 4 4 4 2 4 1 4 0 3 0 4 0 4-2 4-3 4 0 3 2 4 4 4 3 4 1 4 2 3-1 4-1 4-1 4 2 4-1 3-2 4 0 4 0 4 0 4-3 3 2 4 0 4 1 2 3-4-1-4 0-3-1-4 0-4 1-4 0-4 1-3 1-4 1-4 0-4 0-4 1-3 0-4-1-4-2-4-2-4-4-3-3-4 1-4 2-4 2-4 0-3 2-4-1-4-1-4-2-4-5-3-4-4 2-4 3-4 2-4 1-3 4-4 1-4 2-4 4-4-4-3-4-4 3-4 1-4-3-4 1-3 1-4-9-4-4-4-6-4 5-3 5-4-6-4-3-4-9-4-5-3 7-4 3-4-7-4-7-4-5-3 6-4-1-4-10-4-5-4-1-3 8-4 1-4 5-4-14-4 3-3 6-4-1-4 4-4-10-4-6-3 4-4 6-4 7-4 3-4-2-3-22-4-32-4-26-4-3-4-7-3 4-4 7-4 6-4 4-4 8-3 14-4 25-4-5-4-13-4-12-3-13-4-16-4-11-4-20-4-4-3 6-4 2-4 7-4 13-4 7-3 3-4-3-4-11-4-18-4-7-3 5-4 10-4 13-4 12-4 16-3 8-4 0-4-14-4-23-4 0-3 11-4 6-4 7-4 1-4-11-3-17-4-18-4 9-4 9-4 10-3 6-4 6-4 3-4-3-4-25-3-23-4 16-4 5-4-5-4-9-3-1-4 11-4 10-4 15-4 25-3 21-4 9-4-10-4-7-4-6-3 2-4-1-4 2-4 9-4 10-3 6-4-3-4-10-4 8-4 5-3 2-4 2-4 4-4 1-4-8-3 6-4 4-4 8-4 5-4-3-3-4-4 9-4 6-4 10-4 2-3-1-4 0-4 1-4-1-4 0-3 2-4 4-4 3-4 0-4 1-3 1-4 1-4 1-4-1-4-1-3-2-4-4-4 1-4 3-4 2-3 3-4 2-4-1-4 0-4 2-3 1-4-1-4-1-4 0-4 0-3 0-4 1-4-1-4 0-4 0-3 1-4 0-4-2-4 1-4-1-3 0-4-2-4 1-4-1-4 3-3 0-4 2-4-1-4 1-4-2-3 2-4-2-4 1-4-1-4-2-3 1-4 0-4 0-4 2-4-1-3 0-4 1-4 0-4 0-4-1z" fill="#3953A4" stroke="#3953A4" stroke-width="5.2" stroke-linejoin="round"/></g></g>
<g fill="#ED1C24"><circle cx="1329.0" cy="1871.1" r="9.2"/><circle cx="1372.4" cy="1863.2" r="9.2"/><circle cx="1406.9" cy="1859.6" r="9.2"/><circle cx="1442.0" cy="1897.0" r="9.2"/><circle cx="1467.9" cy="1905.7" r="9.2"/></g>
<rect x="120.4" y="55.5" width="452.8" height="271.7" fill="none" stroke="#000" stroke-width="2.25"/>
<path d="M120.4 327.2v18.5M157.6 327.2v9.5M194.8 327.2v18.5M232.1 327.2v9.5M269.3 327.2v18.5M306.5 327.2v9.5M343.7 327.2v18.5M380.9 327.2v9.5M418.1 327.2v18.5M455.4 327.2v9.5M492.6 327.2v18.5M529.8 327.2v9.5M567.0 327.2v18.5M120.4 55.5h-18.5M120.4 191.3h-18.5M120.4 327.2h-18.5" fill="none" stroke="#000" stroke-width="1.5"/>
<rect x="618.8" y="55.5" width="452.8" height="271.7" fill="none" stroke="#000" stroke-width="2.25"/>
<path d="M618.8 327.2v18.5M656.0 327.2v9.5M693.2 327.2v18.5M730.4 327.2v9.5M767.7 327.2v18.5M804.9 327.2v9.5M842.1 327.2v18.5M879.3 327.2v9.5M916.5 327.2v18.5M953.8 327.2v9.5M991.0 327.2v18.5M1028.2 327.2v9.5M1065.4 327.2v18.5M618.8 55.5h-18.5M618.8 191.3h-18.5M618.8 327.2h-18.5" fill="none" stroke="#000" stroke-width="1.5"/>
<rect x="1117.1" y="55.5" width="452.8" height="271.7" fill="none" stroke="#000" stroke-width="2.25"/>
<path d="M1117.1 327.2v18.5M1154.3 327.2v9.5M1191.5 327.2v18.5M1228.8 327.2v9.5M1266.0 327.2v18.5M1303.2 327.2v9.5M1340.4 327.2v18.5M1377.6 327.2v9.5M1414.8 327.2v18.5M1452.0 327.2v9.5M1489.3 327.2v18.5M1526.5 327.2v9.5M1563.7 327.2v18.5M1117.1 55.5h-18.5M1117.1 191.3h-18.5M1117.1 327.2h-18.5" fill="none" stroke="#000" stroke-width="1.5"/>
<rect x="120.4" y="372.6" width="452.8" height="271.7" fill="none" stroke="#000" stroke-width="2.25"/>
<path d="M120.4 644.3v18.5M157.6 644.3v9.5M194.8 644.3v18.5M232.1 644.3v9.5M269.3 644.3v18.5M306.5 644.3v9.5M343.7 644.3v18.5M380.9 644.3v9.5M418.1 644.3v18.5M455.4 644.3v9.5M492.6 644.3v18.5M529.8 644.3v9.5M567.0 644.3v18.5M120.4 372.6h-18.5M120.4 508.5h-18.5M120.4 644.3h-18.5" fill="none" stroke="#000" stroke-width="1.5"/>
<rect x="618.8" y="372.6" width="452.8" height="271.7" fill="none" stroke="#000" stroke-width="2.25"/>
<path d="M618.8 644.3v18.5M656.0 644.3v9.5M693.2 644.3v18.5M730.4 644.3v9.5M767.7 644.3v18.5M804.9 644.3v9.5M842.1 644.3v18.5M879.3 644.3v9.5M916.5 644.3v18.5M953.8 644.3v9.5M991.0 644.3v18.5M1028.2 644.3v9.5M1065.4 644.3v18.5M618.8 372.6h-18.5M618.8 508.5h-18.5M618.8 644.3h-18.5" fill="none" stroke="#000" stroke-width="1.5"/>
<rect x="1117.1" y="372.6" width="452.8" height="271.7" fill="none" stroke="#000" stroke-width="2.25"/>
<path d="M1117.1 644.3v18.5M1154.3 644.3v9.5M1191.5 644.3v18.5M1228.8 644.3v9.5M1266.0 644.3v18.5M1303.2 644.3v9.5M1340.4 644.3v18.5M1377.6 644.3v9.5M1414.8 644.3v18.5M1452.0 644.3v9.5M1489.3 644.3v18.5M1526.5 644.3v9.5M1563.7 644.3v18.5M1117.1 372.6h-18.5M1117.1 508.5h-18.5M1117.1 644.3h-18.5" fill="none" stroke="#000" stroke-width="1.5"/>
<rect x="120.4" y="689.7" width="452.8" height="271.7" fill="none" stroke="#000" stroke-width="2.25"/>
<path d="M120.4 961.4v18.5M157.6 961.4v9.5M194.8 961.4v18.5M232.1 961.4v9.5M269.3 961.4v18.5M306.5 961.4v9.5M343.7 961.4v18.5M380.9 961.4v9.5M418.1 961.4v18.5M455.4 961.4v9.5M492.6 961.4v18.5M529.8 961.4v9.5M567.0 961.4v18.5M120.4 689.7h-18.5M120.4 825.6h-18.5M120.4 961.4h-18.5" fill="none" stroke="#000" stroke-width="1.5"/>
<rect x="618.8" y="689.7" width="452.8" height="271.7" fill="none" stroke="#000" stroke-width="2.25"/>
<path d="M618.8 961.4v18.5M656.0 961.4v9.5M693.2 961.4v18.5M730.4 961.4v9.5M767.7 961.4v18.5M804.9 961.4v9.5M842.1 961.4v18.5M879.3 961.4v9.5M916.5 961.4v18.5M953.8 961.4v9.5M991.0 961.4v18.5M1028.2 961.4v9.5M1065.4 961.4v18.5M618.8 689.7h-18.5M618.8 825.6h-18.5M618.8 961.4h-18.5" fill="none" stroke="#000" stroke-width="1.5"/>
<rect x="1117.1" y="689.7" width="452.8" height="271.7" fill="none" stroke="#000" stroke-width="2.25"/>
<path d="M1117.1 961.4v18.5M1154.3 961.4v9.5M1191.5 961.4v18.5M1228.8 961.4v9.5M1266.0 961.4v18.5M1303.2 961.4v9.5M1340.4 961.4v18.5M1377.6 961.4v9.5M1414.8 961.4v18.5M1452.0 961.4v9.5M1489.3 961.4v18.5M1526.5 961.4v9.5M1563.7 961.4v18.5M1117.1 689.7h-18.5M1117.1 825.6h-18.5M1117.1 961.4h-18.5" fill="none" stroke="#000" stroke-width="1.5"/>
<rect x="120.4" y="1006.9" width="452.8" height="271.7" fill="none" stroke="#000" stroke-width="2.25"/>
<path d="M120.4 1278.6v18.5M157.6 1278.6v9.5M194.8 1278.6v18.5M232.1 1278.6v9.5M269.3 1278.6v18.5M306.5 1278.6v9.5M343.7 1278.6v18.5M380.9 1278.6v9.5M418.1 1278.6v18.5M455.4 1278.6v9.5M492.6 1278.6v18.5M529.8 1278.6v9.5M567.0 1278.6v18.5M120.4 1006.9h-18.5M120.4 1142.8h-18.5M120.4 1278.6h-18.5" fill="none" stroke="#000" stroke-width="1.5"/>
<rect x="618.8" y="1006.9" width="452.8" height="271.7" fill="none" stroke="#000" stroke-width="2.25"/>
<path d="M618.8 1278.6v18.5M656.0 1278.6v9.5M693.2 1278.6v18.5M730.4 1278.6v9.5M767.7 1278.6v18.5M804.9 1278.6v9.5M842.1 1278.6v18.5M879.3 1278.6v9.5M916.5 1278.6v18.5M953.8 1278.6v9.5M991.0 1278.6v18.5M1028.2 1278.6v9.5M1065.4 1278.6v18.5M618.8 1006.9h-18.5M618.8 1142.8h-18.5M618.8 1278.6h-18.5" fill="none" stroke="#000" stroke-width="1.5"/>
<rect x="1117.1" y="1006.9" width="452.8" height="271.7" fill="none" stroke="#000" stroke-width="2.25"/>
<path d="M1117.1 1278.6v18.5M1154.3 1278.6v9.5M1191.5 1278.6v18.5M1228.8 1278.6v9.5M1266.0 1278.6v18.5M1303.2 1278.6v9.5M1340.4 1278.6v18.5M1377.6 1278.6v9.5M1414.8 1278.6v18.5M1452.0 1278.6v9.5M1489.3 1278.6v18.5M1526.5 1278.6v9.5M1563.7 1278.6v18.5M1117.1 1006.9h-18.5M1117.1 1142.8h-18.5M1117.1 1278.6h-18.5" fill="none" stroke="#000" stroke-width="1.5"/>
<rect x="120.4" y="1324.0" width="452.8" height="271.7" fill="none" stroke="#000" stroke-width="2.25"/>
<path d="M120.4 1595.7v18.5M157.6 1595.7v9.5M194.8 1595.7v18.5M232.1 1595.7v9.5M269.3 1595.7v18.5M306.5 1595.7v9.5M343.7 1595.7v18.5M380.9 1595.7v9.5M418.1 1595.7v18.5M455.4 1595.7v9.5M492.6 1595.7v18.5M529.8 1595.7v9.5M567.0 1595.7v18.5M120.4 1324.0h-18.5M120.4 1459.8h-18.5M120.4 1595.7h-18.5" fill="none" stroke="#000" stroke-width="1.5"/>
<rect x="618.8" y="1324.0" width="452.8" height="271.7" fill="none" stroke="#000" stroke-width="2.25"/>
<path d="M618.8 1595.7v18.5M656.0 1595.7v9.5M693.2 1595.7v18.5M730.4 1595.7v9.5M767.7 1595.7v18.5M804.9 1595.7v9.5M842.1 1595.7v18.5M879.3 1595.7v9.5M916.5 1595.7v18.5M953.8 1595.7v9.5M991.0 1595.7v18.5M1028.2 1595.7v9.5M1065.4 1595.7v18.5M618.8 1324.0h-18.5M618.8 1459.8h-18.5M618.8 1595.7h-18.5" fill="none" stroke="#000" stroke-width="1.5"/>
<rect x="1117.1" y="1324.0" width="452.8" height="271.7" fill="none" stroke="#000" stroke-width="2.25"/>
<path d="M1117.1 1595.7v18.5M1154.3 1595.7v9.5M1191.5 1595.7v18.5M1228.8 1595.7v9.5M1266.0 1595.7v18.5M1303.2 1595.7v9.5M1340.4 1595.7v18.5M1377.6 1595.7v9.5M1414.8 1595.7v18.5M1452.0 1595.7v9.5M1489.3 1595.7v18.5M1526.5 1595.7v9.5M1563.7 1595.7v18.5M1117.1 1324.0h-18.5M1117.1 1459.8h-18.5M1117.1 1595.7h-18.5" fill="none" stroke="#000" stroke-width="1.5"/>
<rect x="120.4" y="1641.1" width="452.8" height="271.7" fill="none" stroke="#000" stroke-width="2.25"/>
<path d="M120.4 1912.8v18.5M157.6 1912.8v9.5M194.8 1912.8v18.5M232.1 1912.8v9.5M269.3 1912.8v18.5M306.5 1912.8v9.5M343.7 1912.8v18.5M380.9 1912.8v9.5M418.1 1912.8v18.5M455.4 1912.8v9.5M492.6 1912.8v18.5M529.8 1912.8v9.5M567.0 1912.8v18.5M120.4 1641.1h-18.5M120.4 1776.9h-18.5M120.4 1912.8h-18.5" fill="none" stroke="#000" stroke-width="1.5"/>
<rect x="618.8" y="1641.1" width="452.8" height="271.7" fill="none" stroke="#000" stroke-width="2.25"/>
<path d="M618.8 1912.8v18.5M656.0 1912.8v9.5M693.2 1912.8v18.5M730.4 1912.8v9.5M767.7 1912.8v18.5M804.9 1912.8v9.5M842.1 1912.8v18.5M879.3 1912.8v9.5M916.5 1912.8v18.5M953.8 1912.8v9.5M991.0 1912.8v18.5M1028.2 1912.8v9.5M1065.4 1912.8v18.5M618.8 1641.1h-18.5M618.8 1776.9h-18.5M618.8 1912.8h-18.5" fill="none" stroke="#000" stroke-width="1.5"/>
<rect x="1117.1" y="1641.1" width="452.8" height="271.7" fill="none" stroke="#000" stroke-width="2.25"/>
<path d="M1117.1 1912.8v18.5M1154.3 1912.8v9.5M1191.5 1912.8v18.5M1228.8 1912.8v9.5M1266.0 1912.8v18.5M1303.2 1912.8v9.5M1340.4 1912.8v18.5M1377.6 1912.8v9.5M1414.8 1912.8v18.5M1452.0 1912.8v9.5M1489.3 1912.8v18.5M1526.5 1912.8v9.5M1563.7 1912.8v18.5M1117.1 1641.1h-18.5M1117.1 1776.9h-18.5M1117.1 1912.8h-18.5" fill="none" stroke="#000" stroke-width="1.5"/>
<g font-family="'Liberation Sans',Arial,sans-serif" font-weight="bold" font-size="29.6px" fill="#000">
<text transform="translate(18.4 24.0) scale(1 1.02)">A</text>
<text transform="translate(579.9 24.0) scale(1 1.02)">B</text>
<text transform="translate(1084.0 24.0) scale(1 1.02)">C</text>
<text transform="translate(17.9 359.7) scale(1 1.02)">D</text>
<text transform="translate(579.9 359.7) scale(1 1.02)">E</text>
<text transform="translate(1083.7 359.7) scale(1 1.02)">F</text>
<text transform="translate(17.7 675.6) scale(1 1.02)">G</text>
<text transform="translate(579.9 675.6) scale(1 1.02)">H</text>
<text transform="translate(1080.1 675.6) scale(1 1.02)">I</text>
<text transform="translate(17.7 987.8) scale(1 1.02)">J</text>
<text transform="translate(579.9 987.8) scale(1 1.02)">K</text>
<text transform="translate(1080.1 987.8) scale(1 1.02)">L</text>
<text transform="translate(17.8 1303.2) scale(1 1.02)">M</text>
<text transform="translate(579.9 1303.2) scale(1 1.02)">N</text>
<text transform="translate(1079.8 1303.2) scale(1 1.02)">O</text>
<text transform="translate(17.9 1626.8) scale(1 1.02)">P</text>
<text transform="translate(579.8 1626.8) scale(1 1.02)">Q</text>
<text transform="translate(1080.0 1626.8) scale(1 1.02)">R</text>
</g>
<g font-family="'Liberation Serif','Times New Roman',serif" font-size="32px" fill="#000">
<text x="383.8" y="42.1" text-anchor="middle">XHH3851</text>
<text x="346.9" y="2005.3" text-anchor="middle">Day</text>
<text x="120.4" y="1967.6" text-anchor="middle">0</text>
<text x="194.8" y="1967.6" text-anchor="middle">60</text>
<text x="269.3" y="1967.6" text-anchor="middle">120</text>
<text x="343.7" y="1967.6" text-anchor="middle">180</text>
<text x="418.1" y="1967.6" text-anchor="middle">240</text>
<text x="492.6" y="1967.6" text-anchor="middle">300</text>
<text x="567.0" y="1967.6" text-anchor="middle">360</text>
<text x="882.2" y="42.1" text-anchor="middle">XHH4931</text>
<text x="845.3" y="2005.3" text-anchor="middle">Day</text>
<text x="618.8" y="1967.6" text-anchor="middle">0</text>
<text x="693.2" y="1967.6" text-anchor="middle">60</text>
<text x="767.7" y="1967.6" text-anchor="middle">120</text>
<text x="842.1" y="1967.6" text-anchor="middle">180</text>
<text x="916.5" y="1967.6" text-anchor="middle">240</text>
<text x="991.0" y="1967.6" text-anchor="middle">300</text>
<text x="1065.4" y="1967.6" text-anchor="middle">360</text>
<text x="1380.5" y="42.1" text-anchor="middle">XHH4916</text>
<text x="1343.6" y="2005.3" text-anchor="middle">Day</text>
<text x="1117.1" y="1967.6" text-anchor="middle">0</text>
<text x="1191.5" y="1967.6" text-anchor="middle">60</text>
<text x="1266.0" y="1967.6" text-anchor="middle">120</text>
<text x="1340.4" y="1967.6" text-anchor="middle">180</text>
<text x="1414.8" y="1967.6" text-anchor="middle">240</text>
<text x="1489.3" y="1967.6" text-anchor="middle">300</text>
<text x="1563.7" y="1967.6" text-anchor="middle">360</text>
<text transform="translate(41.8 191.3) rotate(-90)" text-anchor="middle">Temperature</text>
<text x="87.5" y="66.1" text-anchor="end">36</text>
<text x="87.5" y="201.9" text-anchor="end">18</text>
<text x="87.5" y="337.8" text-anchor="end">0</text>
<text transform="translate(42.0 508.5) rotate(-90)" text-anchor="middle">Salinity</text>
<text x="87.5" y="383.2" text-anchor="end">14</text>
<text x="87.5" y="519.1" text-anchor="end">7</text>
<text x="87.5" y="654.9" text-anchor="end">0</text>
<text transform="translate(41.6 825.6) rotate(-90)" text-anchor="middle">DO (mg/l)</text>
<text x="87.5" y="700.3" text-anchor="end">22</text>
<text x="87.5" y="836.2" text-anchor="end">11</text>
<text x="87.5" y="972.0" text-anchor="end">0</text>
<text transform="translate(25.8 1142.8) rotate(-90)" text-anchor="middle">Chl (ug/l)</text>
<text x="87.5" y="1017.5" text-anchor="end">220</text>
<text x="87.5" y="1153.3" text-anchor="end">110</text>
<text x="87.5" y="1289.2" text-anchor="end">0</text>
<text transform="translate(47.6 1459.8) rotate(-90)" text-anchor="middle">SOD (DO g/m2/d)</text>
<text x="87.5" y="1334.6" text-anchor="end">0</text>
<text x="87.5" y="1470.4" text-anchor="end">-3</text>
<text x="87.5" y="1606.3" text-anchor="end">-6</text>
<text transform="translate(33.8 1776.9) rotate(-90)" text-anchor="middle">BFNH4 (g N/m2/d)</text>
<text x="87.5" y="1651.7" text-anchor="end">1.0</text>
<text x="87.5" y="1787.5" text-anchor="end">0.5</text>
<text x="87.5" y="1923.4" text-anchor="end">0.0</text>
</g>
</svg>
</body></html>
